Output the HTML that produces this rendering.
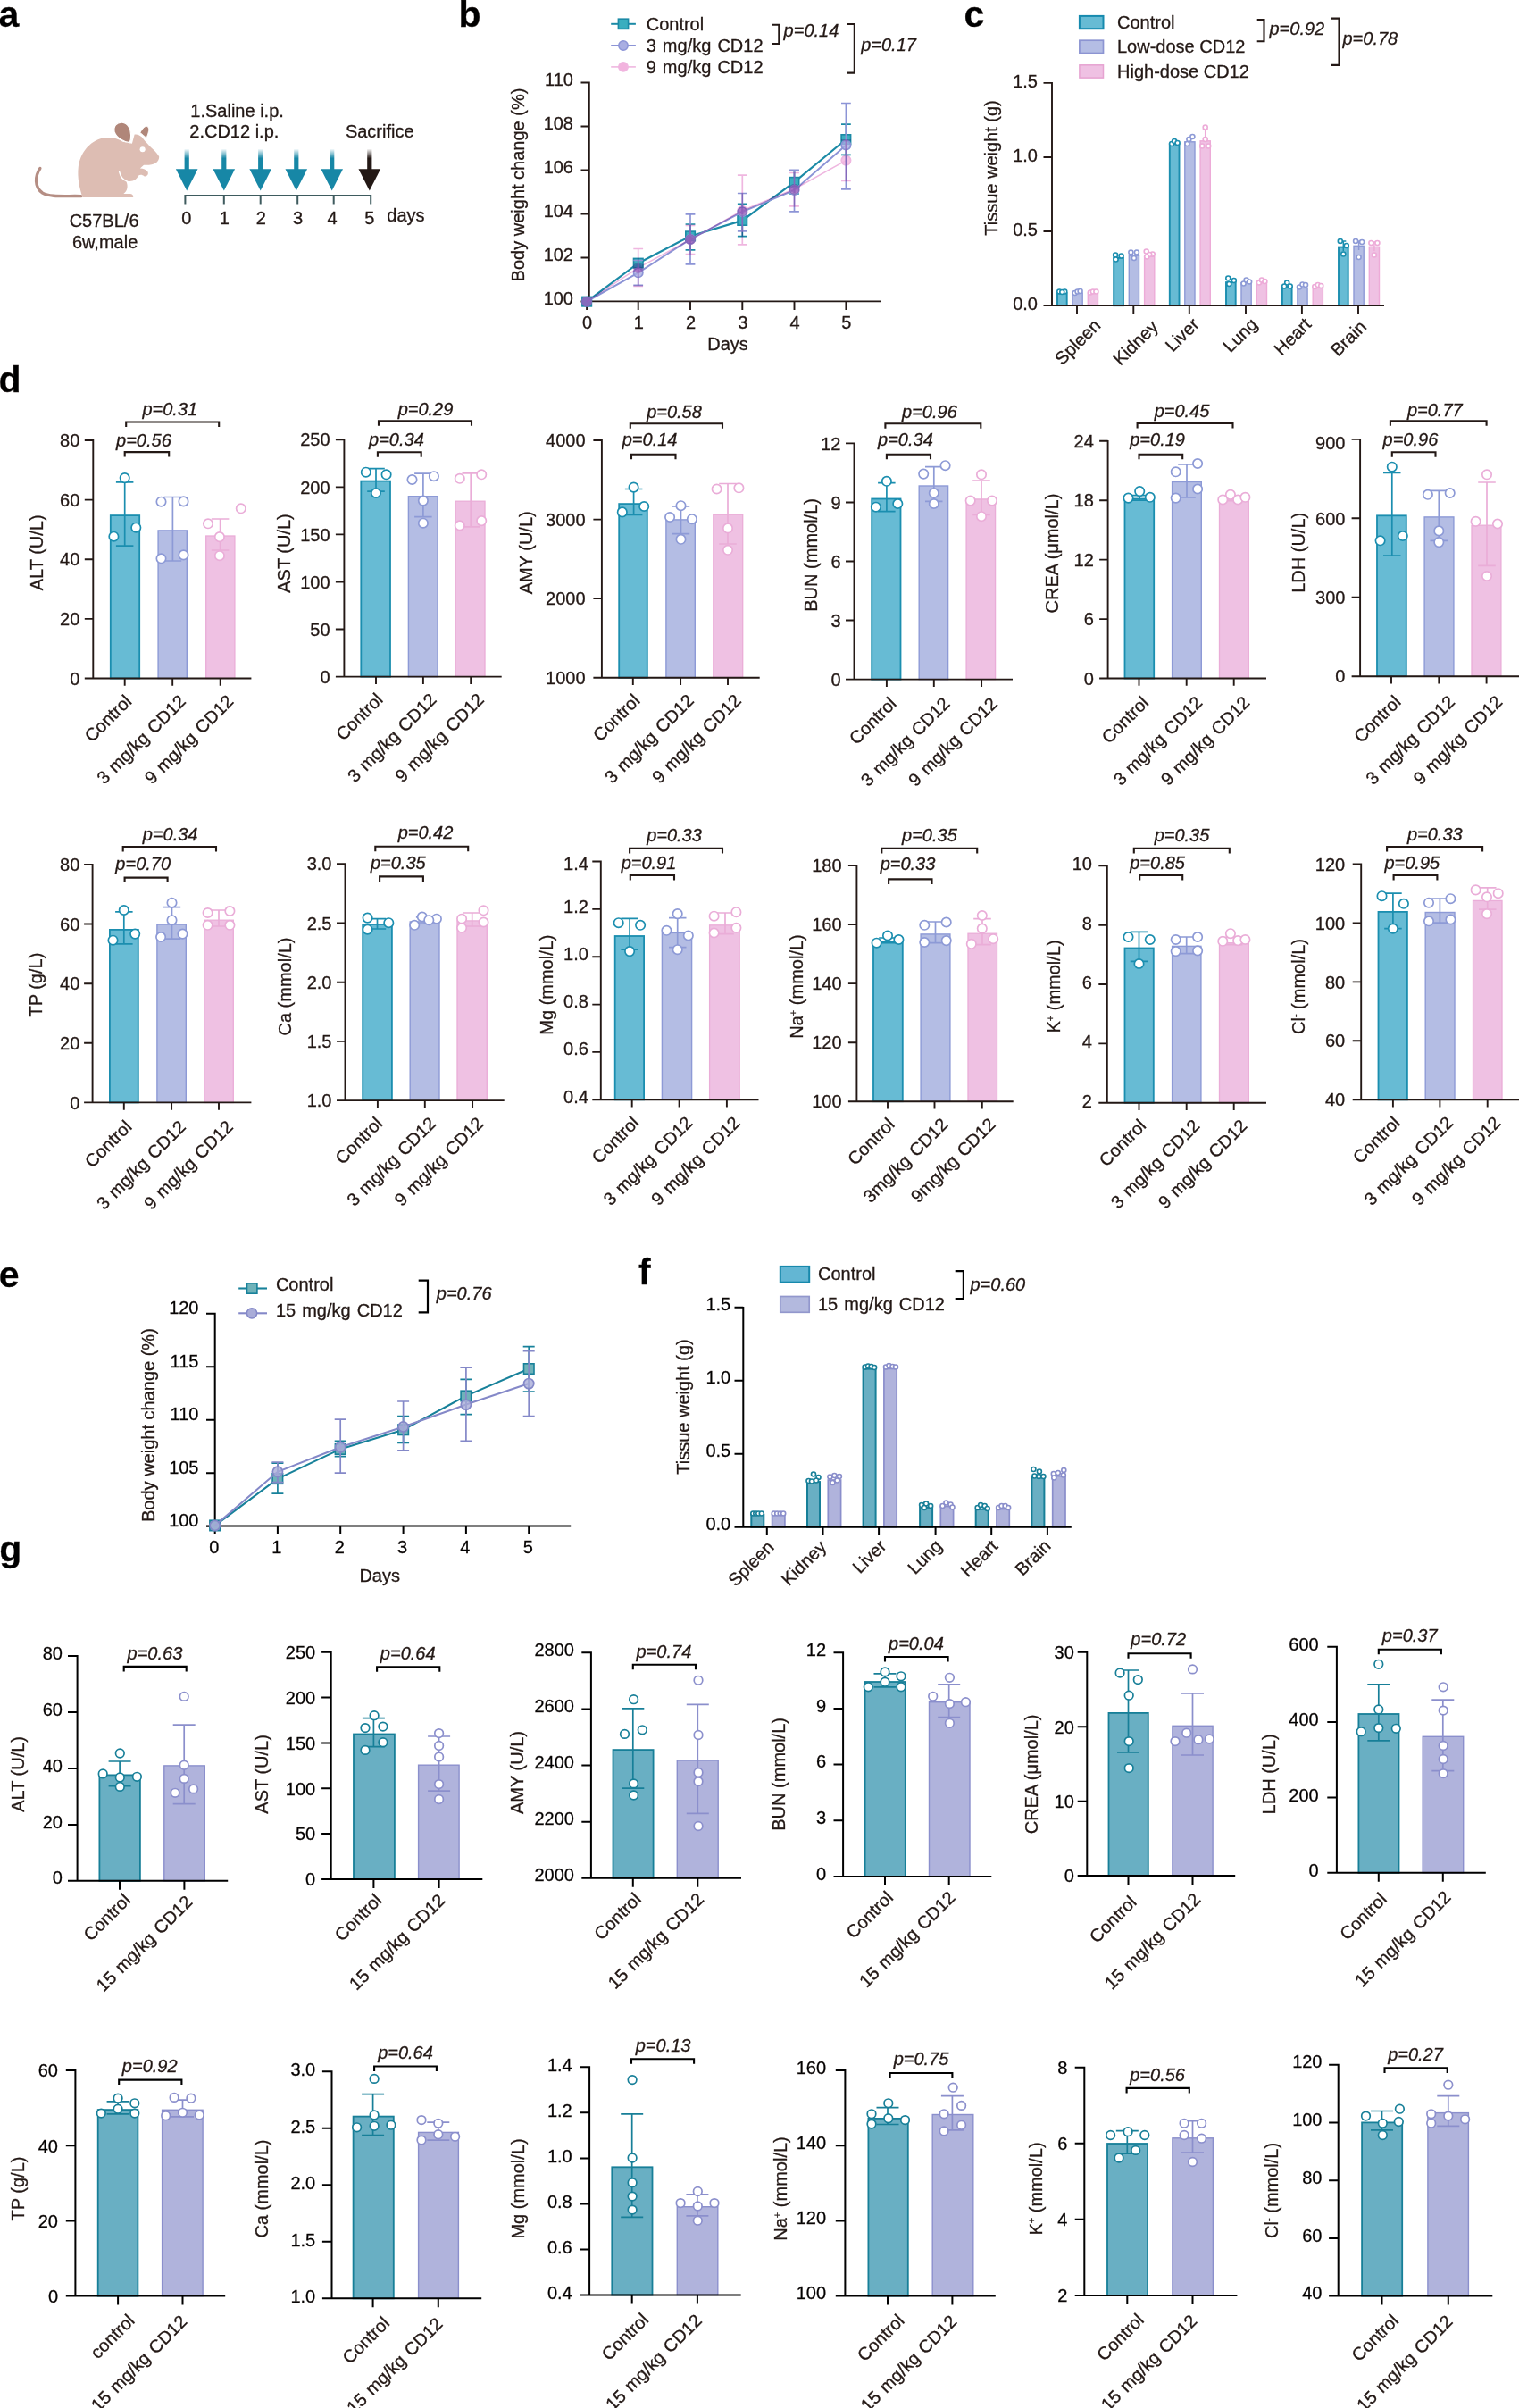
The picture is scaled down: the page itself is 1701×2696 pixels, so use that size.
<!DOCTYPE html>
<html lang="en"><head><meta charset="utf-8"><title>Figure</title>
<style>html,body{margin:0;padding:0;background:#fff}svg{display:block}text{stroke:#231815;stroke-width:.3px}</style></head>
<body>
<svg width="1701" height="2696" viewBox="0 0 1701 2696" font-family="'Liberation Sans', sans-serif" font-size="20" fill="#231815">
<text x="-1.5" y="30" font-weight="bold" font-size="41" fill="#000">a</text>
<text x="513.5" y="30" font-weight="bold" font-size="41" fill="#000">b</text>
<text x="1079.5" y="29.6" font-weight="bold" font-size="41" fill="#000">c</text>
<text x="-1.5" y="438.7" font-weight="bold" font-size="41" fill="#000">d</text>
<text x="-1.2" y="1440.8" font-weight="bold" font-size="41" fill="#000">e</text>
<text x="715" y="1438" font-weight="bold" font-size="41" fill="#000">f</text>
<text x="-0.8" y="1747.5" font-weight="bold" font-size="41" fill="#000">g</text>
<defs><linearGradient id="gt" x1="0" y1="0" x2="0" y2="1"><stop offset="0" stop-color="#1787A6" stop-opacity="0"/><stop offset="0.45" stop-color="#1787A6" stop-opacity="1"/></linearGradient><linearGradient id="gk" x1="0" y1="0" x2="0" y2="1"><stop offset="0" stop-color="#231815" stop-opacity="0"/><stop offset="0.45" stop-color="#231815" stop-opacity="1"/></linearGradient></defs>
<g transform="translate(20 100) scale(0.13826)">
<path d="M180 640C140 700 130 790 200 840C260 875 380 862 512 865" fill="none" stroke="#B58E84" stroke-width="24" stroke-linecap="round"/>
<path d="M524 876C500 800 480 720 490 630C505 520 575 420 690 394C760 385 810 400 850 425L925 440L945 366C965 362 985 370 1003 386L1030 420C1050 440 1075 470 1092 482C1115 505 1135 525 1144 545C1146 565 1135 585 1118 596C1095 610 1060 616 1020 613L990 640C1015 640 1040 650 1052 668C1062 690 1045 710 1022 703C1008 690 990 688 975 700C965 725 940 745 905 745C885 745 880 745 880 750C895 790 885 825 856 846L912 846C930 848 938 862 934 876Z" fill="#DDBDB3"/>
<path d="M822 668C830 705 850 735 890 748" fill="none" stroke="#fff" stroke-width="11" stroke-linecap="round"/>
<path d="M905 432C860 428 800 395 782 345C772 300 800 265 845 268C890 272 915 320 916 370C917 400 912 420 905 432Z" fill="#B08679" stroke="#fff" stroke-width="9"/>
<path d="M990 350C1005 325 1020 305 1040 297C1058 300 1064 318 1060 338C1055 362 1048 380 1040 392C1022 378 1005 362 990 350Z" fill="#B08679" stroke="#fff" stroke-width="6"/>
<circle cx="1010" cy="487" r="22" fill="#fff"/>
</g>
<g>
<text x="116.6" y="254.2" text-anchor="middle">C57BL/6</text>
<text x="117.6" y="278.3" text-anchor="middle">6w,male</text>
<text x="213.3" y="130.6">1.Saline i.p.</text>
<text x="212.3" y="154.3">2.CD12 i.p.</text>
<text x="386.9" y="153.7">Sacrifice</text>
<rect x="206.6" y="166.5" width="5.2" height="24" fill="url(#gt)"/>
<path d="M196.9 189.3H221.5L209.2 213.4Z" fill="#1787A6" stroke="none" stroke-width="0"/>
<rect x="248.2" y="166.5" width="5.2" height="24" fill="url(#gt)"/>
<path d="M238.5 189.3H263.1L250.8 213.4Z" fill="#1787A6" stroke="none" stroke-width="0"/>
<rect x="289.1" y="166.5" width="5.2" height="24" fill="url(#gt)"/>
<path d="M279.4 189.3H304L291.7 213.4Z" fill="#1787A6" stroke="none" stroke-width="0"/>
<rect x="329.2" y="166.5" width="5.2" height="24" fill="url(#gt)"/>
<path d="M319.5 189.3H344.1L331.8 213.4Z" fill="#1787A6" stroke="none" stroke-width="0"/>
<rect x="369.1" y="166.5" width="5.2" height="24" fill="url(#gt)"/>
<path d="M359.4 189.3H384L371.7 213.4Z" fill="#1787A6" stroke="none" stroke-width="0"/>
<rect x="411.2" y="166.5" width="5.2" height="24" fill="url(#gk)"/>
<path d="M401.5 189.3H426.1L413.8 213.4Z" fill="#231815" stroke="none" stroke-width="0"/>
<path d="M207.4 228.6V219.1H415.2V228.6M250.8 219.1V228.6M291.7 219.1V228.6M333.2 219.1V228.6M373.7 219.1V228.6" fill="none" stroke="#3E5B5E" stroke-width="2"/>
<text x="208.8" y="251.1" text-anchor="middle">0</text>
<text x="251.2" y="251.1" text-anchor="middle">1</text>
<text x="292.3" y="251.1" text-anchor="middle">2</text>
<text x="333.6" y="251.1" text-anchor="middle">3</text>
<text x="372.1" y="251.1" text-anchor="middle">4</text>
<text x="413.8" y="251.1" text-anchor="middle">5</text>
<text x="433.3" y="248.1">days</text>
</g>
<path d="M659.8 91.6V337.4M651.5 337.4H986M650.5 92.5H659.8M650.5 141.5H659.8M650.5 190.5H659.8M650.5 239.5H659.8M650.5 288.5H659.8M650.5 337.5H659.8M657.1 337.4V347M714.7 337.4V347M773 337.4V347M831.3 337.4V347M889.5 337.4V347M947.4 337.4V347" fill="none" stroke="#231815" stroke-width="1.9"/>
<g>
<path d="M709.3 291H720.1M709.3 298.5H720.1M714.7 291V298.5M767.6 251H778.4M767.6 279.9H778.4M773 251V279.9M825.9 228.3H836.7M825.9 264.7H836.7M831.3 228.3V264.7M884.1 191H894.9M884.1 217H894.9M889.5 191V217M942 139.1H952.8M942 173.4H952.8M947.4 139.1V173.4" fill="none" stroke="#1B8AA6" stroke-width="1.7"/>
<path d="M657.1 337.7L714.7 294.7L773 264.4L831.3 246.9L889.5 203.8L947.4 156" fill="none" stroke="#1B8AA6" stroke-width="2.2"/>
<rect x="651.9" y="332.4" width="10.5" height="10.5" fill="#3AAEBF" stroke="#1B8AA6" stroke-width="1.6"/>
<rect x="709.5" y="289.4" width="10.5" height="10.5" fill="#3AAEBF" stroke="#1B8AA6" stroke-width="1.6"/>
<rect x="767.8" y="259.1" width="10.5" height="10.5" fill="#3AAEBF" stroke="#1B8AA6" stroke-width="1.6"/>
<rect x="826" y="241.7" width="10.5" height="10.5" fill="#3AAEBF" stroke="#1B8AA6" stroke-width="1.6"/>
<rect x="884.2" y="198.6" width="10.5" height="10.5" fill="#3AAEBF" stroke="#1B8AA6" stroke-width="1.6"/>
<rect x="942.1" y="150.8" width="10.5" height="10.5" fill="#3AAEBF" stroke="#1B8AA6" stroke-width="1.6"/>
</g>
<g>
<path d="M709.3 291.5H720.1M709.3 319.3H720.1M714.7 291.5V319.3M767.6 239.8H778.4M767.6 295.9H778.4M773 239.8V295.9M825.9 216.5H836.7M825.9 258.9H836.7M831.3 216.5V258.9M884.1 190.4H894.9M884.1 236.8H894.9M889.5 190.4V236.8M942 115.5H952.8M942 211.8H952.8M947.4 115.5V211.8" fill="none" stroke="#8C94D6" stroke-width="1.7"/>
<path d="M657.1 337.7L714.7 305.3L773 267.9L831.3 237.2L889.5 212.9L947.4 162.5" fill="none" stroke="#8C94D6" stroke-width="2"/>
<circle cx="657.1" cy="337.7" r="5.2" fill="#A9AEE2" stroke="#8C94D6" stroke-width="1.7" fill-opacity="0.8"/>
<circle cx="714.7" cy="305.3" r="5.2" fill="#A9AEE2" stroke="#8C94D6" stroke-width="1.7" fill-opacity="0.8"/>
<circle cx="773" cy="267.9" r="5.2" fill="#A9AEE2" stroke="#8C94D6" stroke-width="1.7" fill-opacity="0.8"/>
<circle cx="831.3" cy="237.2" r="5.2" fill="#A9AEE2" stroke="#8C94D6" stroke-width="1.7" fill-opacity="0.8"/>
<circle cx="889.5" cy="212.9" r="5.2" fill="#A9AEE2" stroke="#8C94D6" stroke-width="1.7" fill-opacity="0.8"/>
<circle cx="947.4" cy="162.5" r="5.2" fill="#A9AEE2" stroke="#8C94D6" stroke-width="1.7" fill-opacity="0.8"/>
</g>
<g style="mix-blend-mode:multiply">
<path d="M709.3 278.5H720.1M709.3 320.4H720.1M714.7 278.5V320.4M767.6 252.4H778.4M767.6 284.6H778.4M773 252.4V284.6M825.9 196.2H836.7M825.9 273.8H836.7M831.3 196.2V273.8M884.1 193.5H894.9M884.1 230.9H894.9M889.5 193.5V230.9M942 156.8H952.8M942 202.4H952.8M947.4 156.8V202.4" fill="none" stroke="#EFB7E0" stroke-width="1.7"/>
<path d="M657.1 337.7L714.7 299.9L773 268.3L831.3 235.8L889.5 211.8L947.4 179.6" fill="none" stroke="#EFB7E0" stroke-width="1.6"/>
<circle cx="657.1" cy="337.7" r="5.2" fill="#E287D2" stroke="#EFB7E0" stroke-width="1.7" fill-opacity="0.8"/>
<circle cx="714.7" cy="299.9" r="5.2" fill="#E287D2" stroke="#EFB7E0" stroke-width="1.7" fill-opacity="0.8"/>
<circle cx="773" cy="268.3" r="5.2" fill="#E287D2" stroke="#EFB7E0" stroke-width="1.7" fill-opacity="0.8"/>
<circle cx="831.3" cy="235.8" r="5.2" fill="#E287D2" stroke="#EFB7E0" stroke-width="1.7" fill-opacity="0.8"/>
<circle cx="889.5" cy="211.8" r="5.2" fill="#E287D2" stroke="#EFB7E0" stroke-width="1.7" fill-opacity="0.8"/>
<circle cx="947.4" cy="179.6" r="5.2" fill="#F2B3DE" stroke="#EFB7E0" stroke-width="1.7" fill-opacity="0.8"/>
</g>
<text x="642" y="95.7" text-anchor="end">110</text>
<text x="642" y="144.7" text-anchor="end">108</text>
<text x="642" y="193.7" text-anchor="end">106</text>
<text x="642" y="242.7" text-anchor="end">104</text>
<text x="642" y="291.7" text-anchor="end">102</text>
<text x="642" y="340.7" text-anchor="end">100</text>
<text x="657.6" y="368" text-anchor="middle">0</text>
<text x="715.2" y="368" text-anchor="middle">1</text>
<text x="773.5" y="368" text-anchor="middle">2</text>
<text x="831.8" y="368" text-anchor="middle">3</text>
<text x="890" y="368" text-anchor="middle">4</text>
<text x="947.9" y="368" text-anchor="middle">5</text>
<text x="815" y="392" text-anchor="middle">Days</text>
<text text-anchor="middle" transform="translate(586.5 207) rotate(-90)">Body weight change (%)</text>
<line x1="684.2" y1="26.8" x2="711.9" y2="26.8" stroke="#1B8AA6" stroke-width="2"/>
<rect x="692.4" y="21.2" width="11.2" height="11.2" fill="#3AAEBF" stroke="#1B8AA6" stroke-width="1.6"/>
<text x="723.7" y="33.8" word-spacing="1.5">Control</text>
<line x1="684.2" y1="51" x2="711.9" y2="51" stroke="#8C94D6" stroke-width="2"/>
<circle cx="698" cy="51" r="5.2" fill="#A9AEE2" stroke="#8C94D6" stroke-width="1.5"/>
<text x="723.7" y="58" word-spacing="1.5">3 mg/kg CD12</text>
<line x1="684.2" y1="74.9" x2="711.9" y2="74.9" stroke="#EFB7E0" stroke-width="1.6"/>
<circle cx="698" cy="74.9" r="5.2" fill="#F2B3DE" stroke="#EFB7E0" stroke-width="1.5"/>
<text x="723.7" y="81.9" word-spacing="1.5">9 mg/kg CD12</text>
<path d="M864.5 27.8H872.3V49H864.5" fill="none" stroke="#231815" stroke-width="2.1"/>
<text x="877.6" y="41" font-style="italic">p=0.14</text>
<path d="M948.4 27H956.8V81.6H948.4" fill="none" stroke="#231815" stroke-width="2.1"/>
<text x="964.2" y="56.6" font-style="italic">p=0.17</text>
<rect x="1184" y="328.2" width="10.7" height="13.9" fill="#67BBD4" stroke="#1B8EAF" stroke-width="1.9"/>
<circle cx="1186.3" cy="326.5" r="2.5" fill="#fff" stroke="#1B8EAF" stroke-width="1.6"/>
<circle cx="1192.3" cy="326.5" r="2.5" fill="#fff" stroke="#1B8EAF" stroke-width="1.6"/>
<circle cx="1189.3" cy="327" r="2.5" fill="#fff" stroke="#1B8EAF" stroke-width="1.6"/>
<rect x="1201" y="328" width="11.2" height="14.1" fill="#B4BDE4" stroke="#8D9AD6" stroke-width="1.4"/>
<circle cx="1203.6" cy="328" r="2.5" fill="#fff" stroke="#8D9AD6" stroke-width="1.6"/>
<circle cx="1206.6" cy="326.5" r="2.5" fill="#fff" stroke="#8D9AD6" stroke-width="1.6"/>
<circle cx="1209.6" cy="326" r="2.5" fill="#fff" stroke="#8D9AD6" stroke-width="1.6"/>
<rect x="1218.3" y="328" width="11.2" height="14.1" fill="#EFC1E3" stroke="#EDABD8" stroke-width="1.4"/>
<circle cx="1220.9" cy="327.5" r="2.5" fill="#fff" stroke="#EDABD8" stroke-width="1.6"/>
<circle cx="1223.9" cy="326.5" r="2.5" fill="#fff" stroke="#EDABD8" stroke-width="1.6"/>
<circle cx="1227.4" cy="326.5" r="2.5" fill="#fff" stroke="#EDABD8" stroke-width="1.6"/>
<rect x="1247.2" y="288.8" width="10.7" height="53.4" fill="#67BBD4" stroke="#1B8EAF" stroke-width="1.9"/>
<circle cx="1249.1" cy="285.5" r="2.5" fill="#fff" stroke="#1B8EAF" stroke-width="1.6"/>
<circle cx="1255.6" cy="286.5" r="2.5" fill="#fff" stroke="#1B8EAF" stroke-width="1.6"/>
<circle cx="1249.6" cy="290.5" r="2.5" fill="#fff" stroke="#1B8EAF" stroke-width="1.6"/>
<rect x="1264.3" y="286.2" width="11.2" height="55.9" fill="#B4BDE4" stroke="#8D9AD6" stroke-width="1.4"/>
<circle cx="1266.4" cy="282.5" r="2.5" fill="#fff" stroke="#8D9AD6" stroke-width="1.6"/>
<circle cx="1272.9" cy="282.5" r="2.5" fill="#fff" stroke="#8D9AD6" stroke-width="1.6"/>
<circle cx="1269.9" cy="289" r="2.5" fill="#fff" stroke="#8D9AD6" stroke-width="1.6"/>
<rect x="1281.6" y="287.2" width="11.2" height="54.9" fill="#EFC1E3" stroke="#EDABD8" stroke-width="1.4"/>
<circle cx="1283.7" cy="281.5" r="2.5" fill="#fff" stroke="#EDABD8" stroke-width="1.6"/>
<circle cx="1290.7" cy="284.5" r="2.5" fill="#fff" stroke="#EDABD8" stroke-width="1.6"/>
<circle cx="1287.2" cy="285" r="2.5" fill="#fff" stroke="#EDABD8" stroke-width="1.6"/>
<circle cx="1284.2" cy="287.5" r="2.5" fill="#fff" stroke="#EDABD8" stroke-width="1.6"/>
<rect x="1309.8" y="161.3" width="10.7" height="180.8" fill="#67BBD4" stroke="#1B8EAF" stroke-width="1.9"/>
<circle cx="1312.1" cy="161" r="2.5" fill="#fff" stroke="#1B8EAF" stroke-width="1.6"/>
<circle cx="1315.1" cy="158" r="2.5" fill="#fff" stroke="#1B8EAF" stroke-width="1.6"/>
<circle cx="1318.6" cy="160" r="2.5" fill="#fff" stroke="#1B8EAF" stroke-width="1.6"/>
<rect x="1326.8" y="158.8" width="11.2" height="183.3" fill="#B4BDE4" stroke="#8D9AD6" stroke-width="1.4"/>
<circle cx="1329.4" cy="161" r="2.5" fill="#fff" stroke="#8D9AD6" stroke-width="1.6"/>
<circle cx="1331.4" cy="156" r="2.5" fill="#fff" stroke="#8D9AD6" stroke-width="1.6"/>
<circle cx="1335.4" cy="153" r="2.5" fill="#fff" stroke="#8D9AD6" stroke-width="1.6"/>
<rect x="1344.1" y="157.8" width="11.2" height="184.3" fill="#EFC1E3" stroke="#EDABD8" stroke-width="1.4"/>
<path d="M1346.7 145H1352.7M1349.7 145V157.1" fill="none" stroke="#EDABD8" stroke-width="1.5"/>
<circle cx="1349.7" cy="142.5" r="2.5" fill="#fff" stroke="#EDABD8" stroke-width="1.6"/>
<circle cx="1349.7" cy="156" r="2.5" fill="#fff" stroke="#EDABD8" stroke-width="1.6"/>
<circle cx="1346.2" cy="163.5" r="2.5" fill="#fff" stroke="#EDABD8" stroke-width="1.6"/>
<circle cx="1353.2" cy="163.5" r="2.5" fill="#fff" stroke="#EDABD8" stroke-width="1.6"/>
<rect x="1373" y="316.1" width="10.7" height="26.1" fill="#67BBD4" stroke="#1B8EAF" stroke-width="1.9"/>
<circle cx="1375.3" cy="311.5" r="2.5" fill="#fff" stroke="#1B8EAF" stroke-width="1.6"/>
<circle cx="1381.8" cy="314" r="2.5" fill="#fff" stroke="#1B8EAF" stroke-width="1.6"/>
<circle cx="1376.3" cy="318" r="2.5" fill="#fff" stroke="#1B8EAF" stroke-width="1.6"/>
<rect x="1390" y="316.7" width="11.2" height="25.4" fill="#B4BDE4" stroke="#8D9AD6" stroke-width="1.4"/>
<circle cx="1392.6" cy="317.5" r="2.5" fill="#fff" stroke="#8D9AD6" stroke-width="1.6"/>
<circle cx="1395.6" cy="313.5" r="2.5" fill="#fff" stroke="#8D9AD6" stroke-width="1.6"/>
<circle cx="1399.1" cy="315.5" r="2.5" fill="#fff" stroke="#8D9AD6" stroke-width="1.6"/>
<rect x="1407.3" y="316.7" width="11.2" height="25.4" fill="#EFC1E3" stroke="#EDABD8" stroke-width="1.4"/>
<circle cx="1409.9" cy="316.5" r="2.5" fill="#fff" stroke="#EDABD8" stroke-width="1.6"/>
<circle cx="1412.9" cy="313.5" r="2.5" fill="#fff" stroke="#EDABD8" stroke-width="1.6"/>
<circle cx="1416.4" cy="315" r="2.5" fill="#fff" stroke="#EDABD8" stroke-width="1.6"/>
<rect x="1435.9" y="320.9" width="10.7" height="21.2" fill="#67BBD4" stroke="#1B8EAF" stroke-width="1.9"/>
<circle cx="1441.2" cy="316.5" r="2.5" fill="#fff" stroke="#1B8EAF" stroke-width="1.6"/>
<circle cx="1438.2" cy="320.5" r="2.5" fill="#fff" stroke="#1B8EAF" stroke-width="1.6"/>
<circle cx="1444.7" cy="320.5" r="2.5" fill="#fff" stroke="#1B8EAF" stroke-width="1.6"/>
<rect x="1452.9" y="322.4" width="11.2" height="19.7" fill="#B4BDE4" stroke="#8D9AD6" stroke-width="1.4"/>
<circle cx="1455" cy="321.5" r="2.5" fill="#fff" stroke="#8D9AD6" stroke-width="1.6"/>
<circle cx="1458.5" cy="318.5" r="2.5" fill="#fff" stroke="#8D9AD6" stroke-width="1.6"/>
<circle cx="1462" cy="319" r="2.5" fill="#fff" stroke="#8D9AD6" stroke-width="1.6"/>
<rect x="1470.2" y="322.4" width="11.2" height="19.7" fill="#EFC1E3" stroke="#EDABD8" stroke-width="1.4"/>
<circle cx="1472.3" cy="321" r="2.5" fill="#fff" stroke="#EDABD8" stroke-width="1.6"/>
<circle cx="1475.8" cy="319" r="2.5" fill="#fff" stroke="#EDABD8" stroke-width="1.6"/>
<circle cx="1479.3" cy="320" r="2.5" fill="#fff" stroke="#EDABD8" stroke-width="1.6"/>
<rect x="1499" y="276.6" width="10.7" height="65.5" fill="#67BBD4" stroke="#1B8EAF" stroke-width="1.9"/>
<path d="M1501.3 270H1507.3M1504.3 270V281" fill="none" stroke="#1B8EAF" stroke-width="1.5"/>
<circle cx="1500.8" cy="270" r="2.5" fill="#fff" stroke="#1B8EAF" stroke-width="1.6"/>
<circle cx="1507.8" cy="275" r="2.5" fill="#fff" stroke="#1B8EAF" stroke-width="1.6"/>
<circle cx="1504.3" cy="284.5" r="2.5" fill="#fff" stroke="#1B8EAF" stroke-width="1.6"/>
<rect x="1516" y="275.3" width="11.2" height="66.8" fill="#B4BDE4" stroke="#8D9AD6" stroke-width="1.4"/>
<path d="M1518.6 270H1524.6M1521.6 270V280" fill="none" stroke="#8D9AD6" stroke-width="1.5"/>
<circle cx="1518.1" cy="270" r="2.5" fill="#fff" stroke="#8D9AD6" stroke-width="1.6"/>
<circle cx="1525.1" cy="271" r="2.5" fill="#fff" stroke="#8D9AD6" stroke-width="1.6"/>
<circle cx="1521.6" cy="288" r="2.5" fill="#fff" stroke="#8D9AD6" stroke-width="1.6"/>
<rect x="1533.3" y="276.3" width="11.2" height="65.8" fill="#EFC1E3" stroke="#EDABD8" stroke-width="1.4"/>
<path d="M1535.9 271H1541.9M1538.9 271V281" fill="none" stroke="#EDABD8" stroke-width="1.5"/>
<circle cx="1535.4" cy="272" r="2.5" fill="#fff" stroke="#EDABD8" stroke-width="1.6"/>
<circle cx="1542.4" cy="272" r="2.5" fill="#fff" stroke="#EDABD8" stroke-width="1.6"/>
<circle cx="1538.9" cy="285.5" r="2.5" fill="#fff" stroke="#EDABD8" stroke-width="1.6"/>
<path d="M1178 92V342.1M1168.5 342.1H1550M1168.5 92.9H1178M1168.5 176H1178M1168.5 259H1178M1168.5 342.1H1178M1206 342.1V351M1269.3 342.1V351M1331.8 342.1V351M1395 342.1V351M1457.9 342.1V351M1521 342.1V351" fill="none" stroke="#231815" stroke-width="1.9"/>
<text x="1162" y="97.9" text-anchor="end">1.5</text>
<text x="1162" y="181" text-anchor="end">1.0</text>
<text x="1162" y="264" text-anchor="end">0.5</text>
<text x="1162" y="347.1" text-anchor="end">0.0</text>
<text text-anchor="end" transform="translate(1233.5 365.7) rotate(-45)">Spleen</text>
<text text-anchor="end" transform="translate(1298 367.1) rotate(-45)">Kidney</text>
<text text-anchor="end" transform="translate(1344 364.4) rotate(-45)">Liver</text>
<text text-anchor="end" transform="translate(1409.3 364.4) rotate(-45)">Lung</text>
<text text-anchor="end" transform="translate(1469.5 364.4) rotate(-45)">Heart</text>
<text text-anchor="end" transform="translate(1531.3 367.1) rotate(-45)">Brain</text>
<text text-anchor="middle" transform="translate(1116.5 188) rotate(-90)">Tissue weight (g)</text>
<rect x="1208.9" y="17.9" width="26.6" height="14.3" fill="#67BBD4" stroke="#168AAE" stroke-width="2"/>
<text x="1251" y="32.1">Control</text>
<rect x="1208.9" y="45.2" width="26.6" height="14.3" fill="#B4BDE4" stroke="#8C94D2" stroke-width="1.7"/>
<text x="1251" y="59.4">Low-dose CD12</text>
<rect x="1208.9" y="72.8" width="26.6" height="14.3" fill="#EFC1E3" stroke="#E6A3D1" stroke-width="1.5"/>
<text x="1251" y="87">High-dose CD12</text>
<path d="M1407.7 22H1415.5V46.2H1407.7" fill="none" stroke="#231815" stroke-width="2.1"/>
<text x="1421.5" y="39.3" font-style="italic">p=0.92</text>
<path d="M1491 20.6H1499.5V72.9H1491" fill="none" stroke="#231815" stroke-width="2.1"/>
<text x="1503.5" y="49.8" font-style="italic">p=0.78</text>
<rect x="123.8" y="577.1" width="32.4" height="182.4" fill="#67BBD4" stroke="#1B8EAF" stroke-width="1.8"/>
<rect x="177.1" y="593.9" width="32.2" height="165.6" fill="#B4BDE4" stroke="#8D9AD6" stroke-width="1.4"/>
<rect x="230.7" y="600" width="32.2" height="159.5" fill="#EFC1E3" stroke="#EAADD8" stroke-width="1.3"/>
<path d="M129.9 539.8H149.4M129.9 611.2H149.4M139.7 539.8V611.2" fill="none" stroke="#1B8EAF" stroke-width="1.7"/>
<path d="M183.7 556.5H203.2M183.7 628H203.2M193.4 556.5V628" fill="none" stroke="#8D9AD6" stroke-width="1.7"/>
<path d="M236.8 581H256.4M236.8 616H256.4M246.6 581V616" fill="none" stroke="#EAADD8" stroke-width="1.7"/>
<circle cx="139.7" cy="535.1" r="5.2" fill="#fff" stroke="#1B8EAF" stroke-width="1.7"/>
<circle cx="152.3" cy="590.7" r="5.2" fill="#fff" stroke="#1B8EAF" stroke-width="1.7"/>
<circle cx="127.4" cy="600.7" r="5.2" fill="#fff" stroke="#1B8EAF" stroke-width="1.7"/>
<circle cx="180.5" cy="561.7" r="5.2" fill="#fff" stroke="#8D9AD6" stroke-width="1.7"/>
<circle cx="205.5" cy="561.4" r="5.2" fill="#fff" stroke="#8D9AD6" stroke-width="1.7"/>
<circle cx="180.5" cy="625.3" r="5.2" fill="#fff" stroke="#8D9AD6" stroke-width="1.7"/>
<circle cx="205.5" cy="621.4" r="5.2" fill="#fff" stroke="#8D9AD6" stroke-width="1.7"/>
<circle cx="233" cy="586.3" r="5.2" fill="#fff" stroke="#EAADD8" stroke-width="1.7"/>
<circle cx="269.8" cy="569.3" r="5.2" fill="#fff" stroke="#EAADD8" stroke-width="1.7"/>
<circle cx="245.9" cy="601.1" r="5.2" fill="#fff" stroke="#EAADD8" stroke-width="1.7"/>
<circle cx="245.9" cy="622.2" r="5.2" fill="#fff" stroke="#EAADD8" stroke-width="1.7"/>
<path d="M104.3 492.1V759.5M94.8 493H104.3M94.8 559.6H104.3M94.8 626.2H104.3M94.8 692.9H104.3M94.8 759.5H104.3M94.8 759.5H281.4M139.7 759.5V767.8M193.2 759.5V767.8M246.7 759.5V767.8" fill="none" stroke="#231815" stroke-width="1.9"/>
<text x="89.3" y="500.1" text-anchor="end">80</text>
<text x="89.3" y="566.7" text-anchor="end">60</text>
<text x="89.3" y="633.4" text-anchor="end">40</text>
<text x="89.3" y="700" text-anchor="end">20</text>
<text x="89.3" y="766.6" text-anchor="end">0</text>
<text text-anchor="middle" transform="translate(47.5 618.8) rotate(-90)">ALT (U/L)</text>
<text word-spacing="1.5" text-anchor="end" transform="translate(148.7 786.5) rotate(-45)">Control</text>
<text word-spacing="1.5" text-anchor="end" transform="translate(209.2 786.5) rotate(-45)">3 mg/kg CD12</text>
<text word-spacing="1.5" text-anchor="end" transform="translate(262.7 786.5) rotate(-45)">9 mg/kg CD12</text>
<path d="M141.2 478V472.5H245.2V478" fill="none" stroke="#231815" stroke-width="2.1"/>
<text x="190.3" y="464.9" text-anchor="middle" font-style="italic">p=0.31</text>
<path d="M139.7 511.6V506.1H189.2V511.6" fill="none" stroke="#231815" stroke-width="2.1"/>
<text x="160.9" y="499.5" text-anchor="middle" font-style="italic">p=0.56</text>
<rect x="404.3" y="538.6" width="32.7" height="219" fill="#67BBD4" stroke="#1B8EAF" stroke-width="1.8"/>
<rect x="457.4" y="555.7" width="32.7" height="201.9" fill="#B4BDE4" stroke="#8D9AD6" stroke-width="1.4"/>
<rect x="510.2" y="561.2" width="32.8" height="196.3" fill="#EFC1E3" stroke="#EAADD8" stroke-width="1.3"/>
<path d="M411.2 524.6H430.8M411.2 550.1H430.8M421 524.6V550.1" fill="none" stroke="#1B8EAF" stroke-width="1.7"/>
<path d="M464.1 530.2H483.6M464.1 578.6H483.6M473.9 530.2V578.6" fill="none" stroke="#8D9AD6" stroke-width="1.7"/>
<path d="M517.5 529.8H537M517.5 589.9H537M527.2 529.8V589.9" fill="none" stroke="#EAADD8" stroke-width="1.7"/>
<circle cx="409.8" cy="528.7" r="5.2" fill="#fff" stroke="#1B8EAF" stroke-width="1.7"/>
<circle cx="432.6" cy="531.3" r="5.2" fill="#fff" stroke="#1B8EAF" stroke-width="1.7"/>
<circle cx="421" cy="552" r="5.2" fill="#fff" stroke="#1B8EAF" stroke-width="1.7"/>
<circle cx="461.5" cy="537" r="5.2" fill="#fff" stroke="#8D9AD6" stroke-width="1.7"/>
<circle cx="485.9" cy="533.2" r="5.2" fill="#fff" stroke="#8D9AD6" stroke-width="1.7"/>
<circle cx="473.9" cy="560.6" r="5.2" fill="#fff" stroke="#8D9AD6" stroke-width="1.7"/>
<circle cx="473.9" cy="585.7" r="5.2" fill="#fff" stroke="#8D9AD6" stroke-width="1.7"/>
<circle cx="514.8" cy="535.8" r="5.2" fill="#fff" stroke="#EAADD8" stroke-width="1.7"/>
<circle cx="539.2" cy="531.3" r="5.2" fill="#fff" stroke="#EAADD8" stroke-width="1.7"/>
<circle cx="539.2" cy="583.1" r="5.2" fill="#fff" stroke="#EAADD8" stroke-width="1.7"/>
<circle cx="514.8" cy="588.4" r="5.2" fill="#fff" stroke="#EAADD8" stroke-width="1.7"/>
<path d="M385.4 491.4V757.6M375.9 492.3H385.4M375.9 545.4H385.4M375.9 598.4H385.4M375.9 651.5H385.4M375.9 704.5H385.4M375.9 757.6H385.4M375.9 757.6H561.7M421 757.6V765.9M473.9 757.6V765.9M527.2 757.6V765.9" fill="none" stroke="#231815" stroke-width="1.9"/>
<text x="369.6" y="499.4" text-anchor="end">250</text>
<text x="369.6" y="552.5" text-anchor="end">200</text>
<text x="369.6" y="605.5" text-anchor="end">150</text>
<text x="369.6" y="658.6" text-anchor="end">100</text>
<text x="369.6" y="711.6" text-anchor="end">50</text>
<text x="369.6" y="764.7" text-anchor="end">0</text>
<text text-anchor="middle" transform="translate(325.2 619.5) rotate(-90)">AST (U/L)</text>
<text word-spacing="1.5" text-anchor="end" transform="translate(430 784.6) rotate(-45)">Control</text>
<text word-spacing="1.5" text-anchor="end" transform="translate(489.9 784.6) rotate(-45)">3 mg/kg CD12</text>
<text word-spacing="1.5" text-anchor="end" transform="translate(543.2 784.6) rotate(-45)">9 mg/kg CD12</text>
<path d="M424 476.8V471.3H528V476.8" fill="none" stroke="#231815" stroke-width="2.1"/>
<text x="476.5" y="465" text-anchor="middle" font-style="italic">p=0.29</text>
<path d="M422.9 511.7V506.2H471.7V511.7" fill="none" stroke="#231815" stroke-width="2.1"/>
<text x="443.9" y="499.4" text-anchor="middle" font-style="italic">p=0.34</text>
<rect x="693.2" y="564.1" width="31.6" height="194.6" fill="#67BBD4" stroke="#1B8EAF" stroke-width="1.8"/>
<rect x="745.9" y="581.9" width="32.4" height="176.8" fill="#B4BDE4" stroke="#8D9AD6" stroke-width="1.4"/>
<rect x="798.8" y="576.2" width="32.9" height="182.5" fill="#EFC1E3" stroke="#EAADD8" stroke-width="1.3"/>
<path d="M699.9 547.5H719.4M699.9 576.4H719.4M709.6 547.5V576.4" fill="none" stroke="#1B8EAF" stroke-width="1.7"/>
<path d="M752.8 567H772.2M752.8 597.7H772.2M762.5 567V597.7" fill="none" stroke="#8D9AD6" stroke-width="1.7"/>
<path d="M805.2 541.5H824.8M805.2 609H824.8M815 541.5V609" fill="none" stroke="#EAADD8" stroke-width="1.7"/>
<circle cx="709.6" cy="545.6" r="5.2" fill="#fff" stroke="#1B8EAF" stroke-width="1.7"/>
<circle cx="721.2" cy="567" r="5.2" fill="#fff" stroke="#1B8EAF" stroke-width="1.7"/>
<circle cx="696.8" cy="573.4" r="5.2" fill="#fff" stroke="#1B8EAF" stroke-width="1.7"/>
<circle cx="762.5" cy="566.2" r="5.2" fill="#fff" stroke="#8D9AD6" stroke-width="1.7"/>
<circle cx="750.1" cy="579" r="5.2" fill="#fff" stroke="#8D9AD6" stroke-width="1.7"/>
<circle cx="774.9" cy="581.2" r="5.2" fill="#fff" stroke="#8D9AD6" stroke-width="1.7"/>
<circle cx="762.5" cy="603.8" r="5.2" fill="#fff" stroke="#8D9AD6" stroke-width="1.7"/>
<circle cx="802.6" cy="547.5" r="5.2" fill="#fff" stroke="#EAADD8" stroke-width="1.7"/>
<circle cx="827.4" cy="546.3" r="5.2" fill="#fff" stroke="#EAADD8" stroke-width="1.7"/>
<circle cx="815" cy="591.4" r="5.2" fill="#fff" stroke="#EAADD8" stroke-width="1.7"/>
<circle cx="815" cy="615.8" r="5.2" fill="#fff" stroke="#EAADD8" stroke-width="1.7"/>
<path d="M673.9 492.1V758.7M664.4 493H673.9M664.4 581.6H673.9M664.4 670.1H673.9M664.4 758.7H673.9M664.4 758.7H850.7M708.8 758.7V767M762.1 758.7V767M815 758.7V767" fill="none" stroke="#231815" stroke-width="1.9"/>
<text x="655.6" y="500.1" text-anchor="end">4000</text>
<text x="655.6" y="588.7" text-anchor="end">3000</text>
<text x="655.6" y="677.2" text-anchor="end">2000</text>
<text x="655.6" y="765.8" text-anchor="end">1000</text>
<text text-anchor="middle" transform="translate(596.1 618.8) rotate(-90)">AMY (U/L)</text>
<text word-spacing="1.5" text-anchor="end" transform="translate(717.8 785.7) rotate(-45)">Control</text>
<text word-spacing="1.5" text-anchor="end" transform="translate(778.1 785.7) rotate(-45)">3 mg/kg CD12</text>
<text word-spacing="1.5" text-anchor="end" transform="translate(831 785.7) rotate(-45)">9 mg/kg CD12</text>
<path d="M705.8 479.8V474.3H809V479.8" fill="none" stroke="#231815" stroke-width="2.1"/>
<text x="755" y="467.5" text-anchor="middle" font-style="italic">p=0.58</text>
<path d="M707 514.3V508.8H756.5V514.3" fill="none" stroke="#231815" stroke-width="2.1"/>
<text x="727.6" y="499.4" text-anchor="middle" font-style="italic">p=0.14</text>
<rect x="976.2" y="558.5" width="32.3" height="202.1" fill="#67BBD4" stroke="#1B8EAF" stroke-width="1.8"/>
<rect x="1029.2" y="544" width="32.4" height="216.6" fill="#B4BDE4" stroke="#8D9AD6" stroke-width="1.4"/>
<rect x="1082.1" y="558.9" width="32.5" height="201.7" fill="#EFC1E3" stroke="#EAADD8" stroke-width="1.3"/>
<path d="M983.1 540.7H1002.6M983.1 572.6H1002.6M992.9 540.7V572.6" fill="none" stroke="#1B8EAF" stroke-width="1.7"/>
<path d="M1036 522.7H1055.5M1036 561.4H1055.5M1045.8 522.7V561.4" fill="none" stroke="#8D9AD6" stroke-width="1.7"/>
<path d="M1089.2 538H1108.8M1089.2 576.4H1108.8M1099 538V576.4" fill="none" stroke="#EAADD8" stroke-width="1.7"/>
<circle cx="992.9" cy="538.8" r="5.2" fill="#fff" stroke="#1B8EAF" stroke-width="1.7"/>
<circle cx="1005.3" cy="564" r="5.2" fill="#fff" stroke="#1B8EAF" stroke-width="1.7"/>
<circle cx="980.9" cy="567.7" r="5.2" fill="#fff" stroke="#1B8EAF" stroke-width="1.7"/>
<circle cx="1034.2" cy="530.6" r="5.2" fill="#fff" stroke="#8D9AD6" stroke-width="1.7"/>
<circle cx="1058.6" cy="521.2" r="5.2" fill="#fff" stroke="#8D9AD6" stroke-width="1.7"/>
<circle cx="1045.8" cy="552" r="5.2" fill="#fff" stroke="#8D9AD6" stroke-width="1.7"/>
<circle cx="1045.8" cy="564" r="5.2" fill="#fff" stroke="#8D9AD6" stroke-width="1.7"/>
<circle cx="1099" cy="531.3" r="5.2" fill="#fff" stroke="#EAADD8" stroke-width="1.7"/>
<circle cx="1086.7" cy="560.6" r="5.2" fill="#fff" stroke="#EAADD8" stroke-width="1.7"/>
<circle cx="1111" cy="560.6" r="5.2" fill="#fff" stroke="#EAADD8" stroke-width="1.7"/>
<circle cx="1099" cy="578.2" r="5.2" fill="#fff" stroke="#EAADD8" stroke-width="1.7"/>
<path d="M956.5 495.4V760.6M947 496.4H956.5M947 562.5H956.5M947 628.5H956.5M947 694.5H956.5M947 760.6H956.5M947 760.6H1134M992.9 760.6V768.9M1045.8 760.6V768.9M1099.1 760.6V768.9" fill="none" stroke="#231815" stroke-width="1.9"/>
<text x="941.5" y="503.5" text-anchor="end">12</text>
<text x="941.5" y="569.6" text-anchor="end">9</text>
<text x="941.5" y="635.6" text-anchor="end">6</text>
<text x="941.5" y="701.6" text-anchor="end">3</text>
<text x="941.5" y="767.7" text-anchor="end">0</text>
<text text-anchor="middle" transform="translate(915.1 621.4) rotate(-90)">BUN (mmol/L)</text>
<text word-spacing="1.5" text-anchor="end" transform="translate(1004.9 789.1) rotate(-45)">Control</text>
<text word-spacing="1.5" text-anchor="end" transform="translate(1064.8 789.1) rotate(-45)">3 mg/kg CD12</text>
<text word-spacing="1.5" text-anchor="end" transform="translate(1118.1 789.1) rotate(-45)">9 mg/kg CD12</text>
<path d="M991.4 479.8V474.3H1098.3V479.8" fill="none" stroke="#231815" stroke-width="2.1"/>
<text x="1040.9" y="467.5" text-anchor="middle" font-style="italic">p=0.96</text>
<path d="M992.9 514.3V508.8H1042V514.3" fill="none" stroke="#231815" stroke-width="2.1"/>
<text x="1013.9" y="499.4" text-anchor="middle" font-style="italic">p=0.34</text>
<rect x="1259.5" y="558.5" width="32.7" height="201" fill="#67BBD4" stroke="#1B8EAF" stroke-width="1.8"/>
<rect x="1312.6" y="539.5" width="32.7" height="220" fill="#B4BDE4" stroke="#8D9AD6" stroke-width="1.4"/>
<rect x="1365.5" y="558.9" width="32.8" height="200.6" fill="#EFC1E3" stroke="#EAADD8" stroke-width="1.3"/>
<path d="M1266.5 554.6H1286M1266.5 560.2H1286M1276.2 554.6V560.2" fill="none" stroke="#1B8EAF" stroke-width="1.7"/>
<path d="M1319.2 520H1338.8M1319.2 556.8H1338.8M1329 520V556.8" fill="none" stroke="#8D9AD6" stroke-width="1.7"/>
<path d="M1372.2 555.7H1391.7M1372.2 560.6H1391.7M1381.9 555.7V560.6" fill="none" stroke="#EAADD8" stroke-width="1.7"/>
<circle cx="1276.2" cy="550.1" r="5.2" fill="#fff" stroke="#1B8EAF" stroke-width="1.7"/>
<circle cx="1263.5" cy="557.6" r="5.2" fill="#fff" stroke="#1B8EAF" stroke-width="1.7"/>
<circle cx="1287.8" cy="556.8" r="5.2" fill="#fff" stroke="#1B8EAF" stroke-width="1.7"/>
<circle cx="1341.1" cy="519" r="5.2" fill="#fff" stroke="#8D9AD6" stroke-width="1.7"/>
<circle cx="1316.7" cy="528.3" r="5.2" fill="#fff" stroke="#8D9AD6" stroke-width="1.7"/>
<circle cx="1341.1" cy="547.5" r="5.2" fill="#fff" stroke="#8D9AD6" stroke-width="1.7"/>
<circle cx="1316.7" cy="557.6" r="5.2" fill="#fff" stroke="#8D9AD6" stroke-width="1.7"/>
<circle cx="1377.9" cy="553.8" r="5.2" fill="#fff" stroke="#EAADD8" stroke-width="1.7"/>
<circle cx="1369.3" cy="559.5" r="5.2" fill="#fff" stroke="#EAADD8" stroke-width="1.7"/>
<circle cx="1386.2" cy="559.5" r="5.2" fill="#fff" stroke="#EAADD8" stroke-width="1.7"/>
<circle cx="1394.4" cy="556.8" r="5.2" fill="#fff" stroke="#EAADD8" stroke-width="1.7"/>
<path d="M1240.6 492.9V759.5M1231.1 493.8H1240.6M1231.1 560.2H1240.6M1231.1 626.6H1240.6M1231.1 693.1H1240.6M1231.1 759.5H1240.6M1231.1 759.5H1418M1275.5 759.5V767.8M1328.7 759.5V767.8M1381.7 759.5V767.8" fill="none" stroke="#231815" stroke-width="1.9"/>
<text x="1224.8" y="500.9" text-anchor="end">24</text>
<text x="1224.8" y="567.3" text-anchor="end">18</text>
<text x="1224.8" y="633.8" text-anchor="end">12</text>
<text x="1224.8" y="700.2" text-anchor="end">6</text>
<text x="1224.8" y="766.6" text-anchor="end">0</text>
<text text-anchor="middle" transform="translate(1185.3 619.5) rotate(-90)">CREA (μmol/L)</text>
<text word-spacing="1.5" text-anchor="end" transform="translate(1287.5 788) rotate(-45)">Control</text>
<text word-spacing="1.5" text-anchor="end" transform="translate(1347.7 788) rotate(-45)">3 mg/kg CD12</text>
<text word-spacing="1.5" text-anchor="end" transform="translate(1400.7 788) rotate(-45)">9 mg/kg CD12</text>
<path d="M1273.6 479.4V473.9H1380.5V479.4" fill="none" stroke="#231815" stroke-width="2.1"/>
<text x="1323.5" y="467" text-anchor="middle" font-style="italic">p=0.45</text>
<path d="M1275.5 514.3V508.8H1324.2V514.3" fill="none" stroke="#231815" stroke-width="2.1"/>
<text x="1296.1" y="499.4" text-anchor="middle" font-style="italic">p=0.19</text>
<rect x="1542" y="577.3" width="32.8" height="179.9" fill="#67BBD4" stroke="#1B8EAF" stroke-width="1.8"/>
<rect x="1595.1" y="578.9" width="32.8" height="178.3" fill="#B4BDE4" stroke="#8D9AD6" stroke-width="1.4"/>
<rect x="1648" y="588.2" width="32.9" height="169" fill="#EFC1E3" stroke="#EAADD8" stroke-width="1.3"/>
<path d="M1549 529.5H1568.5M1549 622.1H1568.5M1558.8 529.5V622.1" fill="none" stroke="#1B8EAF" stroke-width="1.7"/>
<path d="M1601.5 549.3H1621M1601.5 605.3H1621M1611.3 549.3V605.3" fill="none" stroke="#8D9AD6" stroke-width="1.7"/>
<path d="M1655.2 540H1674.8M1655.2 633.4H1674.8M1665 540V633.4" fill="none" stroke="#EAADD8" stroke-width="1.7"/>
<circle cx="1558.8" cy="522.7" r="5.2" fill="#fff" stroke="#1B8EAF" stroke-width="1.7"/>
<circle cx="1570.8" cy="600" r="5.2" fill="#fff" stroke="#1B8EAF" stroke-width="1.7"/>
<circle cx="1545.6" cy="605.3" r="5.2" fill="#fff" stroke="#1B8EAF" stroke-width="1.7"/>
<circle cx="1598.9" cy="553.8" r="5.2" fill="#fff" stroke="#8D9AD6" stroke-width="1.7"/>
<circle cx="1623.7" cy="552" r="5.2" fill="#fff" stroke="#8D9AD6" stroke-width="1.7"/>
<circle cx="1611.3" cy="594.4" r="5.2" fill="#fff" stroke="#8D9AD6" stroke-width="1.7"/>
<circle cx="1611.3" cy="607.1" r="5.2" fill="#fff" stroke="#8D9AD6" stroke-width="1.7"/>
<circle cx="1665" cy="531.3" r="5.2" fill="#fff" stroke="#EAADD8" stroke-width="1.7"/>
<circle cx="1652.6" cy="583.9" r="5.2" fill="#fff" stroke="#EAADD8" stroke-width="1.7"/>
<circle cx="1677" cy="586.5" r="5.2" fill="#fff" stroke="#EAADD8" stroke-width="1.7"/>
<circle cx="1665" cy="645" r="5.2" fill="#fff" stroke="#EAADD8" stroke-width="1.7"/>
<path d="M1523.1 490.9V757.2M1513.6 491.9H1523.1M1513.6 580.3H1523.1M1513.6 668.8H1523.1M1513.6 757.2H1523.1M1513.6 757.2H1701M1558 757.2V765.5M1611.3 757.2V765.5M1664.6 757.2V765.5" fill="none" stroke="#231815" stroke-width="1.9"/>
<text x="1506.4" y="502.7" text-anchor="end">900</text>
<text x="1506.4" y="587.9" text-anchor="end">600</text>
<text x="1506.4" y="675.9" text-anchor="end">300</text>
<text x="1506.4" y="764.3" text-anchor="end">0</text>
<text text-anchor="middle" transform="translate(1461.1 618.8) rotate(-90)">LDH (U/L)</text>
<text word-spacing="1.5" text-anchor="end" transform="translate(1570 787.2) rotate(-45)">Control</text>
<text word-spacing="1.5" text-anchor="end" transform="translate(1630.3 787.2) rotate(-45)">3 mg/kg CD12</text>
<text word-spacing="1.5" text-anchor="end" transform="translate(1683.6 787.2) rotate(-45)">9 mg/kg CD12</text>
<path d="M1556.9 476.8V471.3H1664.6V476.8" fill="none" stroke="#231815" stroke-width="2.1"/>
<text x="1606.8" y="465.7" text-anchor="middle" font-style="italic">p=0.77</text>
<path d="M1558.8 511.7V506.2H1607.5V511.7" fill="none" stroke="#231815" stroke-width="2.1"/>
<text x="1579.4" y="499" text-anchor="middle" font-style="italic">p=0.96</text>
<rect x="122.9" y="1040.9" width="31.9" height="193.5" fill="#67BBD4" stroke="#1B8EAF" stroke-width="1.8"/>
<rect x="175.9" y="1035" width="32.4" height="199.4" fill="#B4BDE4" stroke="#8D9AD6" stroke-width="1.4"/>
<rect x="228.8" y="1030.2" width="32.5" height="204.3" fill="#EFC1E3" stroke="#EAADD8" stroke-width="1.3"/>
<path d="M129.1 1020.8H148.6M129.1 1056.8H148.6M138.8 1020.8V1056.8" fill="none" stroke="#1B8EAF" stroke-width="1.7"/>
<path d="M182.8 1015.6H202.2M182.8 1051.2H202.2M192.5 1015.6V1051.2" fill="none" stroke="#8D9AD6" stroke-width="1.7"/>
<path d="M235.2 1019H254.8M235.2 1037H254.8M245 1019V1037" fill="none" stroke="#EAADD8" stroke-width="1.7"/>
<circle cx="138.8" cy="1019" r="5.2" fill="#fff" stroke="#1B8EAF" stroke-width="1.7"/>
<circle cx="151.2" cy="1045.6" r="5.2" fill="#fff" stroke="#1B8EAF" stroke-width="1.7"/>
<circle cx="126.5" cy="1052.7" r="5.2" fill="#fff" stroke="#1B8EAF" stroke-width="1.7"/>
<circle cx="192.5" cy="1010.7" r="5.2" fill="#fff" stroke="#8D9AD6" stroke-width="1.7"/>
<circle cx="192.5" cy="1030.2" r="5.2" fill="#fff" stroke="#8D9AD6" stroke-width="1.7"/>
<circle cx="204.5" cy="1045.6" r="5.2" fill="#fff" stroke="#8D9AD6" stroke-width="1.7"/>
<circle cx="180.1" cy="1049" r="5.2" fill="#fff" stroke="#8D9AD6" stroke-width="1.7"/>
<circle cx="232.6" cy="1022" r="5.2" fill="#fff" stroke="#EAADD8" stroke-width="1.7"/>
<circle cx="257.4" cy="1020" r="5.2" fill="#fff" stroke="#EAADD8" stroke-width="1.7"/>
<circle cx="232.6" cy="1035.8" r="5.2" fill="#fff" stroke="#EAADD8" stroke-width="1.7"/>
<circle cx="257.4" cy="1035.8" r="5.2" fill="#fff" stroke="#EAADD8" stroke-width="1.7"/>
<path d="M103.6 966.9V1234.4M94.1 967.9H103.6M94.1 1034.5H103.6M94.1 1101.2H103.6M94.1 1167.8H103.6M94.1 1234.4H103.6M94.1 1234.4H281.4M138.8 1234.4V1242.7M192.1 1234.4V1242.7M245 1234.4V1242.7" fill="none" stroke="#231815" stroke-width="1.9"/>
<text x="89.3" y="975" text-anchor="end">80</text>
<text x="89.3" y="1041.6" text-anchor="end">60</text>
<text x="89.3" y="1108.2" text-anchor="end">40</text>
<text x="89.3" y="1174.9" text-anchor="end">20</text>
<text x="89.3" y="1241.5" text-anchor="end">0</text>
<text text-anchor="middle" transform="translate(46.8 1102.6) rotate(-90)">TP (g/L)</text>
<text word-spacing="1.5" text-anchor="end" transform="translate(148.8 1262.9) rotate(-45)">Control</text>
<text word-spacing="1.5" text-anchor="end" transform="translate(209.1 1262.9) rotate(-45)">3 mg/kg CD12</text>
<text word-spacing="1.5" text-anchor="end" transform="translate(262 1262.9) rotate(-45)">9 mg/kg CD12</text>
<path d="M137.7 953.5V948H242V953.5" fill="none" stroke="#231815" stroke-width="2.1"/>
<text x="190.6" y="940.5" text-anchor="middle" font-style="italic">p=0.34</text>
<path d="M139.6 988.1V982.6H187.6V988.1" fill="none" stroke="#231815" stroke-width="2.1"/>
<text x="160.2" y="974" text-anchor="middle" font-style="italic">p=0.70</text>
<rect x="406.2" y="1034.9" width="32.7" height="197.2" fill="#67BBD4" stroke="#1B8EAF" stroke-width="1.8"/>
<rect x="459.2" y="1032" width="32.8" height="200.1" fill="#B4BDE4" stroke="#8D9AD6" stroke-width="1.4"/>
<rect x="512" y="1030.9" width="33.3" height="201.2" fill="#EFC1E3" stroke="#EAADD8" stroke-width="1.3"/>
<path d="M412.8 1028.7H432.2M412.8 1040H432.2M422.5 1028.7V1040" fill="none" stroke="#1B8EAF" stroke-width="1.7"/>
<path d="M465.9 1026.8H485.4M465.9 1034H485.4M475.6 1026.8V1034" fill="none" stroke="#8D9AD6" stroke-width="1.7"/>
<path d="M519 1022H538.5M519 1037H538.5M528.7 1022V1037" fill="none" stroke="#EAADD8" stroke-width="1.7"/>
<circle cx="411.6" cy="1027.6" r="5.2" fill="#fff" stroke="#1B8EAF" stroke-width="1.7"/>
<circle cx="435.3" cy="1033.2" r="5.2" fill="#fff" stroke="#1B8EAF" stroke-width="1.7"/>
<circle cx="411.6" cy="1040.7" r="5.2" fill="#fff" stroke="#1B8EAF" stroke-width="1.7"/>
<circle cx="472.8" cy="1026.5" r="5.2" fill="#fff" stroke="#8D9AD6" stroke-width="1.7"/>
<circle cx="488.9" cy="1028.7" r="5.2" fill="#fff" stroke="#8D9AD6" stroke-width="1.7"/>
<circle cx="480.3" cy="1030.2" r="5.2" fill="#fff" stroke="#8D9AD6" stroke-width="1.7"/>
<circle cx="464.2" cy="1035.8" r="5.2" fill="#fff" stroke="#8D9AD6" stroke-width="1.7"/>
<circle cx="541.5" cy="1019.3" r="5.2" fill="#fff" stroke="#EAADD8" stroke-width="1.7"/>
<circle cx="517.1" cy="1028.7" r="5.2" fill="#fff" stroke="#EAADD8" stroke-width="1.7"/>
<circle cx="541.5" cy="1032.5" r="5.2" fill="#fff" stroke="#EAADD8" stroke-width="1.7"/>
<circle cx="517.1" cy="1038.8" r="5.2" fill="#fff" stroke="#EAADD8" stroke-width="1.7"/>
<path d="M386.5 966.2V1232.1M377 967.2H386.5M377 1033.4H386.5M377 1099.7H386.5M377 1165.9H386.5M377 1232.1H386.5M377 1232.1H564.7M422.9 1232.1V1240.4M475.8 1232.1V1240.4M529.1 1232.1V1240.4" fill="none" stroke="#231815" stroke-width="1.9"/>
<text x="371.5" y="974.3" text-anchor="end">3.0</text>
<text x="371.5" y="1040.5" text-anchor="end">2.5</text>
<text x="371.5" y="1106.8" text-anchor="end">2.0</text>
<text x="371.5" y="1173" text-anchor="end">1.5</text>
<text x="371.5" y="1239.2" text-anchor="end">1.0</text>
<text text-anchor="middle" transform="translate(325.5 1104.5) rotate(-90)">Ca (mmol/L)</text>
<text word-spacing="1.5" text-anchor="end" transform="translate(429.4 1259.1) rotate(-45)">Control</text>
<text word-spacing="1.5" text-anchor="end" transform="translate(489.3 1259.1) rotate(-45)">3 mg/kg CD12</text>
<text word-spacing="1.5" text-anchor="end" transform="translate(542.6 1259.1) rotate(-45)">9 mg/kg CD12</text>
<path d="M420.3 953.2V947.7H524.2V953.2" fill="none" stroke="#231815" stroke-width="2.1"/>
<text x="476.5" y="939.4" text-anchor="middle" font-style="italic">p=0.42</text>
<path d="M425.1 986.9V981.4H473.9V986.9" fill="none" stroke="#231815" stroke-width="2.1"/>
<text x="445.8" y="973.2" text-anchor="middle" font-style="italic">p=0.35</text>
<rect x="688.7" y="1048" width="32.4" height="183.3" fill="#67BBD4" stroke="#1B8EAF" stroke-width="1.8"/>
<rect x="741.4" y="1044.4" width="33.2" height="186.9" fill="#B4BDE4" stroke="#8D9AD6" stroke-width="1.4"/>
<rect x="794.6" y="1035.8" width="33.6" height="195.6" fill="#EFC1E3" stroke="#EAADD8" stroke-width="1.3"/>
<path d="M695.4 1028.3H714.9M695.4 1063.2H714.9M705.1 1028.3V1063.2" fill="none" stroke="#1B8EAF" stroke-width="1.7"/>
<path d="M749 1027.6H768.5M749 1060.6H768.5M758.7 1027.6V1060.6" fill="none" stroke="#8D9AD6" stroke-width="1.7"/>
<path d="M802.2 1022H821.8M802.2 1045.6H821.8M812 1022V1045.6" fill="none" stroke="#EAADD8" stroke-width="1.7"/>
<circle cx="692.7" cy="1033.2" r="5.2" fill="#fff" stroke="#1B8EAF" stroke-width="1.7"/>
<circle cx="717.1" cy="1035.8" r="5.2" fill="#fff" stroke="#1B8EAF" stroke-width="1.7"/>
<circle cx="705.1" cy="1065.1" r="5.2" fill="#fff" stroke="#1B8EAF" stroke-width="1.7"/>
<circle cx="758.7" cy="1023.1" r="5.2" fill="#fff" stroke="#8D9AD6" stroke-width="1.7"/>
<circle cx="746.4" cy="1041.8" r="5.2" fill="#fff" stroke="#8D9AD6" stroke-width="1.7"/>
<circle cx="770.8" cy="1047.5" r="5.2" fill="#fff" stroke="#8D9AD6" stroke-width="1.7"/>
<circle cx="758.7" cy="1063.2" r="5.2" fill="#fff" stroke="#8D9AD6" stroke-width="1.7"/>
<circle cx="824.4" cy="1021.2" r="5.2" fill="#fff" stroke="#EAADD8" stroke-width="1.7"/>
<circle cx="799.6" cy="1025.7" r="5.2" fill="#fff" stroke="#EAADD8" stroke-width="1.7"/>
<circle cx="824.4" cy="1038.8" r="5.2" fill="#fff" stroke="#EAADD8" stroke-width="1.7"/>
<circle cx="799.6" cy="1044.5" r="5.2" fill="#fff" stroke="#EAADD8" stroke-width="1.7"/>
<path d="M672.8 963.5V1231.3M663.3 964.5H672.8M663.3 1017.9H672.8M663.3 1071.2H672.8M663.3 1124.6H672.8M663.3 1177.9H672.8M663.3 1231.3H672.8M663.3 1231.3H849.5M707.7 1231.3V1239.6M760.6 1231.3V1239.6M813.9 1231.3V1239.6" fill="none" stroke="#231815" stroke-width="1.9"/>
<text x="658.9" y="974.4" text-anchor="end">1.4</text>
<text x="658.9" y="1021.6" text-anchor="end">1.2</text>
<text x="658.9" y="1074.6" text-anchor="end">1.0</text>
<text x="658.9" y="1128" text-anchor="end">0.8</text>
<text x="658.9" y="1181.3" text-anchor="end">0.6</text>
<text x="658.9" y="1234.7" text-anchor="end">0.4</text>
<text text-anchor="middle" transform="translate(619.4 1102.6) rotate(-90)">Mg (mmol/L)</text>
<text word-spacing="1.5" text-anchor="end" transform="translate(716.7 1258.3) rotate(-45)">Control</text>
<text word-spacing="1.5" text-anchor="end" transform="translate(776.6 1258.3) rotate(-45)">3 mg/kg CD12</text>
<text word-spacing="1.5" text-anchor="end" transform="translate(829.9 1258.3) rotate(-45)">9 mg/kg CD12</text>
<path d="M705.1 955.4V949.9H809V955.4" fill="none" stroke="#231815" stroke-width="2.1"/>
<text x="755" y="942.4" text-anchor="middle" font-style="italic">p=0.33</text>
<path d="M705.8 985.5V980H755V985.5" fill="none" stroke="#231815" stroke-width="2.1"/>
<text x="726.5" y="973.2" text-anchor="middle" font-style="italic">p=0.91</text>
<rect x="978" y="1054.7" width="32.8" height="178.5" fill="#67BBD4" stroke="#1B8EAF" stroke-width="1.8"/>
<rect x="1031.1" y="1045.9" width="32.8" height="187.3" fill="#B4BDE4" stroke="#8D9AD6" stroke-width="1.4"/>
<rect x="1084" y="1045.2" width="32.5" height="188.1" fill="#EFC1E3" stroke="#EAADD8" stroke-width="1.3"/>
<path d="M984.2 1050H1003.8M984.2 1055.7H1003.8M994 1050V1055.7" fill="none" stroke="#1B8EAF" stroke-width="1.7"/>
<path d="M1037.8 1032H1057.2M1037.8 1055.7H1057.2M1047.5 1032V1055.7" fill="none" stroke="#8D9AD6" stroke-width="1.7"/>
<path d="M1090.2 1028.7H1109.8M1090.2 1057.6H1109.8M1100 1028.7V1057.6" fill="none" stroke="#EAADD8" stroke-width="1.7"/>
<circle cx="994" cy="1047.5" r="5.2" fill="#fff" stroke="#1B8EAF" stroke-width="1.7"/>
<circle cx="981.6" cy="1055.7" r="5.2" fill="#fff" stroke="#1B8EAF" stroke-width="1.7"/>
<circle cx="1006.4" cy="1052" r="5.2" fill="#fff" stroke="#1B8EAF" stroke-width="1.7"/>
<circle cx="1035.3" cy="1035.8" r="5.2" fill="#fff" stroke="#8D9AD6" stroke-width="1.7"/>
<circle cx="1059.7" cy="1032.5" r="5.2" fill="#fff" stroke="#8D9AD6" stroke-width="1.7"/>
<circle cx="1035.3" cy="1055" r="5.2" fill="#fff" stroke="#8D9AD6" stroke-width="1.7"/>
<circle cx="1059.7" cy="1053.1" r="5.2" fill="#fff" stroke="#8D9AD6" stroke-width="1.7"/>
<circle cx="1099.8" cy="1025" r="5.2" fill="#fff" stroke="#EAADD8" stroke-width="1.7"/>
<circle cx="1099.8" cy="1039.6" r="5.2" fill="#fff" stroke="#EAADD8" stroke-width="1.7"/>
<circle cx="1112.2" cy="1051.2" r="5.2" fill="#fff" stroke="#EAADD8" stroke-width="1.7"/>
<circle cx="1087.8" cy="1056.8" r="5.2" fill="#fff" stroke="#EAADD8" stroke-width="1.7"/>
<path d="M959.4 968V1233.2M949.9 969H959.4M949.9 1035H959.4M949.9 1101.1H959.4M949.9 1167.2H959.4M949.9 1233.2H959.4M949.9 1233.2H1134.7M994 1233.2V1241.5M1046.5 1233.2V1241.5M1099.8 1233.2V1241.5" fill="none" stroke="#231815" stroke-width="1.9"/>
<text x="942.6" y="976.1" text-anchor="end">180</text>
<text x="942.6" y="1042.1" text-anchor="end">160</text>
<text x="942.6" y="1108.2" text-anchor="end">140</text>
<text x="942.6" y="1174.2" text-anchor="end">120</text>
<text x="942.6" y="1240.3" text-anchor="end">100</text>
<text text-anchor="middle" transform="translate(899 1104.5) rotate(-90)">Na<tspan font-size="11" dy="-7.5">+</tspan><tspan dy="7.5"> </tspan>(mmol/L)</text>
<text word-spacing="1.5" text-anchor="end" transform="translate(1003 1260.2) rotate(-45)">Control</text>
<text word-spacing="1.5" text-anchor="end" transform="translate(1062.5 1260.2) rotate(-45)">3mg/kg CD12</text>
<text word-spacing="1.5" text-anchor="end" transform="translate(1115.8 1260.2) rotate(-45)">9mg/kg CD12</text>
<path d="M987.3 955.4V949.9H1094.2V955.4" fill="none" stroke="#231815" stroke-width="2.1"/>
<text x="1040.9" y="942.4" text-anchor="middle" font-style="italic">p=0.35</text>
<path d="M995.1 989.9V984.4H1043.5V989.9" fill="none" stroke="#231815" stroke-width="2.1"/>
<text x="1016.5" y="973.9" text-anchor="middle" font-style="italic">p=0.33</text>
<rect x="1259.5" y="1061.5" width="32.3" height="173.2" fill="#67BBD4" stroke="#1B8EAF" stroke-width="1.8"/>
<rect x="1312.6" y="1059.4" width="32.3" height="175.3" fill="#B4BDE4" stroke="#8D9AD6" stroke-width="1.4"/>
<rect x="1365.5" y="1055.7" width="32.8" height="179.1" fill="#EFC1E3" stroke="#EAADD8" stroke-width="1.3"/>
<path d="M1265.8 1043.3H1285.2M1265.8 1076.4H1285.2M1275.5 1043.3V1076.4" fill="none" stroke="#1B8EAF" stroke-width="1.7"/>
<path d="M1319 1049H1338.5M1319 1067.7H1338.5M1328.7 1049V1067.7" fill="none" stroke="#8D9AD6" stroke-width="1.7"/>
<path d="M1372 1049.3H1391.5M1372 1057.6H1391.5M1381.7 1049.3V1057.6" fill="none" stroke="#EAADD8" stroke-width="1.7"/>
<circle cx="1263.5" cy="1049" r="5.2" fill="#fff" stroke="#1B8EAF" stroke-width="1.7"/>
<circle cx="1287.8" cy="1052" r="5.2" fill="#fff" stroke="#1B8EAF" stroke-width="1.7"/>
<circle cx="1275.5" cy="1079" r="5.2" fill="#fff" stroke="#1B8EAF" stroke-width="1.7"/>
<circle cx="1316.7" cy="1052" r="5.2" fill="#fff" stroke="#8D9AD6" stroke-width="1.7"/>
<circle cx="1341.1" cy="1049" r="5.2" fill="#fff" stroke="#8D9AD6" stroke-width="1.7"/>
<circle cx="1316.7" cy="1065.1" r="5.2" fill="#fff" stroke="#8D9AD6" stroke-width="1.7"/>
<circle cx="1341.1" cy="1064.4" r="5.2" fill="#fff" stroke="#8D9AD6" stroke-width="1.7"/>
<circle cx="1377.9" cy="1045.2" r="5.2" fill="#fff" stroke="#EAADD8" stroke-width="1.7"/>
<circle cx="1369.3" cy="1053.8" r="5.2" fill="#fff" stroke="#EAADD8" stroke-width="1.7"/>
<circle cx="1386.2" cy="1053.1" r="5.2" fill="#fff" stroke="#EAADD8" stroke-width="1.7"/>
<circle cx="1394.4" cy="1052" r="5.2" fill="#fff" stroke="#EAADD8" stroke-width="1.7"/>
<path d="M1239.8 968.4V1234.7M1230.3 969.4H1239.8M1230.3 1035.7H1239.8M1230.3 1102H1239.8M1230.3 1168.4H1239.8M1230.3 1234.7H1239.8M1230.3 1234.7H1418M1275.5 1234.7V1243M1328.7 1234.7V1243M1381.7 1234.7V1243" fill="none" stroke="#231815" stroke-width="1.9"/>
<text x="1222.9" y="974.4" text-anchor="end">10</text>
<text x="1222.9" y="1040.7" text-anchor="end">8</text>
<text x="1222.9" y="1107" text-anchor="end">6</text>
<text x="1222.9" y="1173.4" text-anchor="end">4</text>
<text x="1222.9" y="1239.7" text-anchor="end">2</text>
<text text-anchor="middle" transform="translate(1187.2 1104.5) rotate(-90)">K<tspan font-size="11" dy="-7.5">+</tspan><tspan dy="7.5"> </tspan>(mmol/L)</text>
<text word-spacing="1.5" text-anchor="end" transform="translate(1284.5 1261.7) rotate(-45)">Control</text>
<text word-spacing="1.5" text-anchor="end" transform="translate(1344.7 1261.7) rotate(-45)">3 mg/kg CD12</text>
<text word-spacing="1.5" text-anchor="end" transform="translate(1397.7 1261.7) rotate(-45)">9 mg/kg CD12</text>
<path d="M1269.8 955.4V949.9H1376.8V955.4" fill="none" stroke="#231815" stroke-width="2.1"/>
<text x="1323.5" y="942.4" text-anchor="middle" font-style="italic">p=0.35</text>
<path d="M1276.2 985.5V980H1324.2V985.5" fill="none" stroke="#231815" stroke-width="2.1"/>
<text x="1296.1" y="973.2" text-anchor="middle" font-style="italic">p=0.85</text>
<rect x="1543.5" y="1020.9" width="32.4" height="210.4" fill="#67BBD4" stroke="#1B8EAF" stroke-width="1.8"/>
<rect x="1596.2" y="1021.5" width="32.8" height="209.8" fill="#B4BDE4" stroke="#8D9AD6" stroke-width="1.4"/>
<rect x="1649.5" y="1008.4" width="32.5" height="222.9" fill="#EFC1E3" stroke="#EAADD8" stroke-width="1.3"/>
<path d="M1550.2 1000.2H1569.7M1550.2 1039.6H1569.7M1559.9 1000.2V1039.6" fill="none" stroke="#1B8EAF" stroke-width="1.7"/>
<path d="M1602.7 1006.2H1622.2M1602.7 1033.2H1622.2M1612.4 1006.2V1033.2" fill="none" stroke="#8D9AD6" stroke-width="1.7"/>
<path d="M1656 993.8H1675.5M1656 1018.2H1675.5M1665.7 993.8V1018.2" fill="none" stroke="#EAADD8" stroke-width="1.7"/>
<circle cx="1547.5" cy="1003.2" r="5.2" fill="#fff" stroke="#1B8EAF" stroke-width="1.7"/>
<circle cx="1571.9" cy="1011.8" r="5.2" fill="#fff" stroke="#1B8EAF" stroke-width="1.7"/>
<circle cx="1559.9" cy="1039.6" r="5.2" fill="#fff" stroke="#1B8EAF" stroke-width="1.7"/>
<circle cx="1600" cy="1010.7" r="5.2" fill="#fff" stroke="#8D9AD6" stroke-width="1.7"/>
<circle cx="1624.4" cy="1006.2" r="5.2" fill="#fff" stroke="#8D9AD6" stroke-width="1.7"/>
<circle cx="1600" cy="1031.3" r="5.2" fill="#fff" stroke="#8D9AD6" stroke-width="1.7"/>
<circle cx="1624.4" cy="1029.5" r="5.2" fill="#fff" stroke="#8D9AD6" stroke-width="1.7"/>
<circle cx="1652.6" cy="996.4" r="5.2" fill="#fff" stroke="#EAADD8" stroke-width="1.7"/>
<circle cx="1677.7" cy="1000.2" r="5.2" fill="#fff" stroke="#EAADD8" stroke-width="1.7"/>
<circle cx="1665" cy="1004.3" r="5.2" fill="#fff" stroke="#EAADD8" stroke-width="1.7"/>
<circle cx="1665" cy="1023.1" r="5.2" fill="#fff" stroke="#EAADD8" stroke-width="1.7"/>
<path d="M1524.2 966.5V1231.3M1514.7 967.5H1524.2M1514.7 1033.5H1524.2M1514.7 1099.4H1524.2M1514.7 1165.3H1524.2M1514.7 1231.3H1524.2M1514.7 1231.3H1701M1559.9 1231.3V1239.6M1612.4 1231.3V1239.6M1665.7 1231.3V1239.6" fill="none" stroke="#231815" stroke-width="1.9"/>
<text x="1506.2" y="974.6" text-anchor="end">120</text>
<text x="1506.2" y="1040.5" text-anchor="end">100</text>
<text x="1506.2" y="1106.5" text-anchor="end">80</text>
<text x="1506.2" y="1172.4" text-anchor="end">60</text>
<text x="1506.2" y="1238.4" text-anchor="end">40</text>
<text text-anchor="middle" transform="translate(1461.1 1104.5) rotate(-90)">Cl<tspan font-size="11" dy="-7.5">-</tspan><tspan dy="7.5"> </tspan>(mmol/L)</text>
<text word-spacing="1.5" text-anchor="end" transform="translate(1568.9 1258.3) rotate(-45)">Control</text>
<text word-spacing="1.5" text-anchor="end" transform="translate(1628.4 1258.3) rotate(-45)">3 mg/kg CD12</text>
<text word-spacing="1.5" text-anchor="end" transform="translate(1681.7 1258.3) rotate(-45)">9 mg/kg CD12</text>
<path d="M1553.1 953.5V948H1660.1V953.5" fill="none" stroke="#231815" stroke-width="2.1"/>
<text x="1606.8" y="940.5" text-anchor="middle" font-style="italic">p=0.33</text>
<path d="M1560.6 985.5V980H1609.4V985.5" fill="none" stroke="#231815" stroke-width="2.1"/>
<text x="1581.3" y="973.2" text-anchor="middle" font-style="italic">p=0.95</text>
<path d="M240.7 1469.8V1708.6M231 1708.6H639.2M231 1470.7H240.7M231 1530.2H240.7M231 1589.7H240.7M231 1649.2H240.7M231 1708.7H240.7M240.7 1708.6V1718M310.9 1708.6V1718M381.2 1708.6V1718M451.6 1708.6V1718M521.9 1708.6V1718M592.2 1708.6V1718" fill="none" stroke="#000" stroke-width="2"/>
<g>
<path d="M304.4 1638.1H317.4M304.4 1672.1H317.4M310.9 1638.1V1672.1M374.7 1613.3H387.7M374.7 1630.7H387.7M381.2 1613.3V1630.7M445.1 1585.6H458.1M445.1 1615.5H458.1M451.6 1585.6V1615.5M515.4 1544.4H528.4M515.4 1583.7H528.4M521.9 1544.4V1583.7M585.7 1507.6H598.7M585.7 1558.2H598.7M592.2 1507.6V1558.2" fill="none" stroke="#17819A" stroke-width="1.7"/>
<path d="M240.7 1708L310.9 1655.6L381.2 1622.4L451.6 1600.8L521.9 1562.9L592.2 1532.5" fill="none" stroke="#17819A" stroke-width="2.1"/>
<rect x="234.9" y="1702.2" width="11.5" height="11.5" fill="#6FB2B9" stroke="#17819A" stroke-width="1.6"/>
<rect x="305.1" y="1649.8" width="11.5" height="11.5" fill="#6FB2B9" stroke="#17819A" stroke-width="1.6"/>
<rect x="375.4" y="1616.7" width="11.5" height="11.5" fill="#6FB2B9" stroke="#17819A" stroke-width="1.6"/>
<rect x="445.9" y="1595" width="11.5" height="11.5" fill="#6FB2B9" stroke="#17819A" stroke-width="1.6"/>
<rect x="516.1" y="1557.2" width="11.5" height="11.5" fill="#6FB2B9" stroke="#17819A" stroke-width="1.6"/>
<rect x="586.5" y="1526.8" width="11.5" height="11.5" fill="#6FB2B9" stroke="#17819A" stroke-width="1.6"/>
</g>
<g>
<path d="M304.4 1637H317.4M304.4 1659.7H317.4M310.9 1637V1659.7M374.7 1589.2H387.7M374.7 1649.2H387.7M381.2 1589.2V1649.2M445.1 1569H458.1M445.1 1623.8H458.1M451.6 1569V1623.8M515.4 1531.1H528.4M515.4 1613.3H528.4M521.9 1531.1V1613.3M585.7 1512.6H598.7M585.7 1585.6H598.7M592.2 1512.6V1585.6" fill="none" stroke="#8488C8" stroke-width="1.7"/>
<path d="M240.7 1708L310.9 1647.8L381.2 1620.2L451.6 1597.5L521.9 1572.6L592.2 1549.1" fill="none" stroke="#8488C8" stroke-width="2.1"/>
<circle cx="240.7" cy="1708" r="5.6" fill="#A9ACD8" stroke="#8488C8" stroke-width="1.7" fill-opacity="0.8"/>
<circle cx="310.9" cy="1647.8" r="5.6" fill="#A9ACD8" stroke="#8488C8" stroke-width="1.7" fill-opacity="0.8"/>
<circle cx="381.2" cy="1620.2" r="5.6" fill="#A9ACD8" stroke="#8488C8" stroke-width="1.7" fill-opacity="0.8"/>
<circle cx="451.6" cy="1597.5" r="5.6" fill="#A9ACD8" stroke="#8488C8" stroke-width="1.7" fill-opacity="0.8"/>
<circle cx="521.9" cy="1572.6" r="5.6" fill="#A9ACD8" stroke="#8488C8" stroke-width="1.7" fill-opacity="0.8"/>
<circle cx="592.2" cy="1549.1" r="5.6" fill="#A9ACD8" stroke="#8488C8" stroke-width="1.7" fill-opacity="0.8"/>
</g>
<text x="222.5" y="1471.3" text-anchor="end" fill="#000">120</text>
<text x="222.5" y="1530.8" text-anchor="end" fill="#000">115</text>
<text x="222.5" y="1590.3" text-anchor="end" fill="#000">110</text>
<text x="222.5" y="1649.8" text-anchor="end" fill="#000">105</text>
<text x="222.5" y="1709.3" text-anchor="end" fill="#000">100</text>
<text x="239.7" y="1739.3" text-anchor="middle" fill="#000">0</text>
<text x="309.9" y="1739.3" text-anchor="middle" fill="#000">1</text>
<text x="380.2" y="1739.3" text-anchor="middle" fill="#000">2</text>
<text x="450.6" y="1739.3" text-anchor="middle" fill="#000">3</text>
<text x="520.9" y="1739.3" text-anchor="middle" fill="#000">4</text>
<text x="591.2" y="1739.3" text-anchor="middle" fill="#000">5</text>
<text x="425.2" y="1770.6" text-anchor="middle">Days</text>
<text text-anchor="middle" transform="translate(172.5 1595.6) rotate(-90)">Body weight change (%)</text>
<line x1="267.2" y1="1442.5" x2="299" y2="1442.5" stroke="#17819A" stroke-width="2.1"/>
<rect x="276.5" y="1436.8" width="11.4" height="11.4" fill="#6FB2B9" stroke="#17819A" stroke-width="1.6"/>
<text x="308.9" y="1444.8" word-spacing="1.5">Control</text>
<line x1="267.2" y1="1470.3" x2="299" y2="1470.3" stroke="#8488C8" stroke-width="2.1"/>
<circle cx="282" cy="1470.3" r="5.6" fill="#A9ACD8" stroke="#8488C8" stroke-width="1.5"/>
<text x="308.9" y="1473.9" word-spacing="1.5">15 mg/kg CD12</text>
<path d="M468.7 1433.6H479V1469.4H468.7" fill="none" stroke="#000" stroke-width="2.2"/>
<text x="488.8" y="1455" font-style="italic">p=0.76</text>
<rect x="841.3" y="1695.9" width="14" height="13.8" fill="#69AFC3" stroke="#177F98" stroke-width="2"/>
<circle cx="843.3" cy="1694.5" r="2.5" fill="#fff" stroke="#177F98" stroke-width="1.6"/>
<circle cx="846.3" cy="1694.5" r="2.5" fill="#fff" stroke="#177F98" stroke-width="1.6"/>
<circle cx="849.3" cy="1694.5" r="2.5" fill="#fff" stroke="#177F98" stroke-width="1.6"/>
<circle cx="852.8" cy="1694.5" r="2.5" fill="#fff" stroke="#177F98" stroke-width="1.6"/>
<rect x="864.6" y="1695.8" width="14.3" height="13.9" fill="#B0B3DC" stroke="#8A8ECB" stroke-width="1.7"/>
<circle cx="866.7" cy="1694.5" r="2.5" fill="#fff" stroke="#8A8ECB" stroke-width="1.6"/>
<circle cx="870.2" cy="1694.5" r="2.5" fill="#fff" stroke="#8A8ECB" stroke-width="1.6"/>
<circle cx="873.7" cy="1694.5" r="2.5" fill="#fff" stroke="#8A8ECB" stroke-width="1.6"/>
<circle cx="877.2" cy="1694.5" r="2.5" fill="#fff" stroke="#8A8ECB" stroke-width="1.6"/>
<rect x="904" y="1659.1" width="14" height="50.6" fill="#69AFC3" stroke="#177F98" stroke-width="2"/>
<circle cx="911" cy="1650.5" r="2.5" fill="#fff" stroke="#177F98" stroke-width="1.6"/>
<circle cx="905.5" cy="1658" r="2.5" fill="#fff" stroke="#177F98" stroke-width="1.6"/>
<circle cx="916.5" cy="1654" r="2.5" fill="#fff" stroke="#177F98" stroke-width="1.6"/>
<circle cx="909" cy="1658.5" r="2.5" fill="#fff" stroke="#177F98" stroke-width="1.6"/>
<circle cx="914" cy="1657.5" r="2.5" fill="#fff" stroke="#177F98" stroke-width="1.6"/>
<rect x="927.3" y="1657" width="14.3" height="52.6" fill="#B0B3DC" stroke="#8A8ECB" stroke-width="1.7"/>
<circle cx="929.4" cy="1653.5" r="2.5" fill="#fff" stroke="#8A8ECB" stroke-width="1.6"/>
<circle cx="934.4" cy="1652" r="2.5" fill="#fff" stroke="#8A8ECB" stroke-width="1.6"/>
<circle cx="939.9" cy="1653" r="2.5" fill="#fff" stroke="#8A8ECB" stroke-width="1.6"/>
<circle cx="932.4" cy="1660" r="2.5" fill="#fff" stroke="#8A8ECB" stroke-width="1.6"/>
<circle cx="937.4" cy="1657.5" r="2.5" fill="#fff" stroke="#8A8ECB" stroke-width="1.6"/>
<rect x="966.6" y="1532.6" width="14" height="177.1" fill="#69AFC3" stroke="#177F98" stroke-width="2"/>
<circle cx="968.6" cy="1530.5" r="2.5" fill="#fff" stroke="#177F98" stroke-width="1.6"/>
<circle cx="972.1" cy="1529.5" r="2.5" fill="#fff" stroke="#177F98" stroke-width="1.6"/>
<circle cx="975.6" cy="1530" r="2.5" fill="#fff" stroke="#177F98" stroke-width="1.6"/>
<circle cx="979.1" cy="1531" r="2.5" fill="#fff" stroke="#177F98" stroke-width="1.6"/>
<rect x="989.9" y="1532.4" width="14.3" height="177.3" fill="#B0B3DC" stroke="#8A8ECB" stroke-width="1.7"/>
<circle cx="992" cy="1530.5" r="2.5" fill="#fff" stroke="#8A8ECB" stroke-width="1.6"/>
<circle cx="995.5" cy="1529" r="2.5" fill="#fff" stroke="#8A8ECB" stroke-width="1.6"/>
<circle cx="999.5" cy="1530" r="2.5" fill="#fff" stroke="#8A8ECB" stroke-width="1.6"/>
<circle cx="1003" cy="1530.5" r="2.5" fill="#fff" stroke="#8A8ECB" stroke-width="1.6"/>
<rect x="1030.1" y="1687.8" width="14" height="21.9" fill="#69AFC3" stroke="#177F98" stroke-width="2"/>
<circle cx="1032.1" cy="1685" r="2.5" fill="#fff" stroke="#177F98" stroke-width="1.6"/>
<circle cx="1037.1" cy="1683.5" r="2.5" fill="#fff" stroke="#177F98" stroke-width="1.6"/>
<circle cx="1042.1" cy="1686" r="2.5" fill="#fff" stroke="#177F98" stroke-width="1.6"/>
<circle cx="1035.1" cy="1688" r="2.5" fill="#fff" stroke="#177F98" stroke-width="1.6"/>
<rect x="1053.3" y="1686.5" width="14.3" height="23.1" fill="#B0B3DC" stroke="#8A8ECB" stroke-width="1.7"/>
<circle cx="1055.5" cy="1686" r="2.5" fill="#fff" stroke="#8A8ECB" stroke-width="1.6"/>
<circle cx="1059.5" cy="1682.5" r="2.5" fill="#fff" stroke="#8A8ECB" stroke-width="1.6"/>
<circle cx="1064.5" cy="1684.5" r="2.5" fill="#fff" stroke="#8A8ECB" stroke-width="1.6"/>
<circle cx="1066.5" cy="1687.5" r="2.5" fill="#fff" stroke="#8A8ECB" stroke-width="1.6"/>
<rect x="1092.7" y="1689.7" width="14" height="20" fill="#69AFC3" stroke="#177F98" stroke-width="2"/>
<circle cx="1094.7" cy="1688" r="2.5" fill="#fff" stroke="#177F98" stroke-width="1.6"/>
<circle cx="1098.2" cy="1685" r="2.5" fill="#fff" stroke="#177F98" stroke-width="1.6"/>
<circle cx="1102.7" cy="1686" r="2.5" fill="#fff" stroke="#177F98" stroke-width="1.6"/>
<circle cx="1105.7" cy="1689" r="2.5" fill="#fff" stroke="#177F98" stroke-width="1.6"/>
<rect x="1116" y="1689.5" width="14.3" height="20.1" fill="#B0B3DC" stroke="#8A8ECB" stroke-width="1.7"/>
<circle cx="1118.1" cy="1688" r="2.5" fill="#fff" stroke="#8A8ECB" stroke-width="1.6"/>
<circle cx="1121.6" cy="1686" r="2.5" fill="#fff" stroke="#8A8ECB" stroke-width="1.6"/>
<circle cx="1125.6" cy="1686" r="2.5" fill="#fff" stroke="#8A8ECB" stroke-width="1.6"/>
<circle cx="1129.1" cy="1688" r="2.5" fill="#fff" stroke="#8A8ECB" stroke-width="1.6"/>
<rect x="1155.4" y="1653.5" width="14" height="56.2" fill="#69AFC3" stroke="#177F98" stroke-width="2"/>
<circle cx="1157.4" cy="1645" r="2.5" fill="#fff" stroke="#177F98" stroke-width="1.6"/>
<circle cx="1163.9" cy="1647.5" r="2.5" fill="#fff" stroke="#177F98" stroke-width="1.6"/>
<circle cx="1158.4" cy="1652.5" r="2.5" fill="#fff" stroke="#177F98" stroke-width="1.6"/>
<circle cx="1163.4" cy="1653" r="2.5" fill="#fff" stroke="#177F98" stroke-width="1.6"/>
<circle cx="1168.4" cy="1653" r="2.5" fill="#fff" stroke="#177F98" stroke-width="1.6"/>
<rect x="1178.7" y="1652.6" width="14.3" height="57.1" fill="#B0B3DC" stroke="#8A8ECB" stroke-width="1.7"/>
<circle cx="1179.8" cy="1650" r="2.5" fill="#fff" stroke="#8A8ECB" stroke-width="1.6"/>
<circle cx="1184.8" cy="1649" r="2.5" fill="#fff" stroke="#8A8ECB" stroke-width="1.6"/>
<circle cx="1191.3" cy="1646" r="2.5" fill="#fff" stroke="#8A8ECB" stroke-width="1.6"/>
<circle cx="1180.3" cy="1654.5" r="2.5" fill="#fff" stroke="#8A8ECB" stroke-width="1.6"/>
<circle cx="1190.8" cy="1651.5" r="2.5" fill="#fff" stroke="#8A8ECB" stroke-width="1.6"/>
<path d="M832.3 1462.9V1709.7M822.5 1709.7H1199.8M822.5 1463.8H832.3M822.5 1545.8H832.3M822.5 1627.7H832.3M822.5 1709.7H832.3M858.8 1709.7V1719M921.5 1709.7V1719M984.1 1709.7V1719M1047.6 1709.7V1719M1110.2 1709.7V1719M1172.9 1709.7V1719" fill="none" stroke="#000" stroke-width="2"/>
<text x="818.2" y="1467.3" text-anchor="end" fill="#000">1.5</text>
<text x="818.2" y="1549.3" text-anchor="end" fill="#000">1.0</text>
<text x="818.2" y="1631.2" text-anchor="end" fill="#000">0.5</text>
<text x="818.2" y="1713.2" text-anchor="end" fill="#000">0.0</text>
<text text-anchor="end" transform="translate(867.8 1733.3) rotate(-45)">Spleen</text>
<text text-anchor="end" transform="translate(926.5 1733.3) rotate(-45)">Kidney</text>
<text text-anchor="end" transform="translate(993.6 1732.2) rotate(-45)">Liver</text>
<text text-anchor="end" transform="translate(1056.1 1732.2) rotate(-45)">Lung</text>
<text text-anchor="end" transform="translate(1118.4 1732.2) rotate(-45)">Heart</text>
<text text-anchor="end" transform="translate(1177.9 1732.2) rotate(-45)">Brain</text>
<text text-anchor="middle" transform="translate(771.5 1575) rotate(-90)">Tissue weight (g)</text>
<rect x="873.8" y="1417.9" width="32.4" height="17.8" fill="#63B6D3" stroke="#1789AC" stroke-width="2"/>
<text x="916" y="1433.3" word-spacing="1.5">Control</text>
<rect x="873.8" y="1451.5" width="32.4" height="17.8" fill="#B3B9DE" stroke="#9297CC" stroke-width="1.7"/>
<text x="916" y="1466.9" word-spacing="1.5">15 mg/kg CD12</text>
<path d="M1069.7 1423.2H1078.9V1454.2H1069.7" fill="none" stroke="#000" stroke-width="2.2"/>
<text x="1086.5" y="1445.3" font-style="italic">p=0.60</text>
<rect x="111.4" y="1987.4" width="45.5" height="118.4" fill="#69AFC3" stroke="#177F98" stroke-width="1.8"/>
<rect x="183.8" y="1976.9" width="45.5" height="128.9" fill="#B0B3DC" stroke="#8B8FCC" stroke-width="1.4"/>
<path d="M121.6 1972H146.6M121.6 1999.7H146.6M134.1 1972V1999.7" fill="none" stroke="#177F98" stroke-width="1.7"/>
<path d="M193.7 1931.2H218.7M193.7 2019.7H218.7M206.2 1931.2V2019.7" fill="none" stroke="#8B8FCC" stroke-width="1.7"/>
<circle cx="134.3" cy="1963" r="4.8" fill="#fff" stroke="#177F98" stroke-width="1.7"/>
<circle cx="115.2" cy="1985.9" r="4.8" fill="#fff" stroke="#177F98" stroke-width="1.7"/>
<circle cx="134.3" cy="1990" r="4.8" fill="#fff" stroke="#177F98" stroke-width="1.7"/>
<circle cx="153.4" cy="1989.3" r="4.8" fill="#fff" stroke="#177F98" stroke-width="1.7"/>
<circle cx="134.3" cy="2000.4" r="4.8" fill="#fff" stroke="#177F98" stroke-width="1.7"/>
<circle cx="206.2" cy="1899.4" r="4.8" fill="#fff" stroke="#8B8FCC" stroke-width="1.7"/>
<circle cx="206.2" cy="1976.2" r="4.8" fill="#fff" stroke="#8B8FCC" stroke-width="1.7"/>
<circle cx="206.2" cy="1991.4" r="4.8" fill="#fff" stroke="#8B8FCC" stroke-width="1.7"/>
<circle cx="216.6" cy="2002.9" r="4.8" fill="#fff" stroke="#8B8FCC" stroke-width="1.7"/>
<circle cx="196.1" cy="2007.3" r="4.8" fill="#fff" stroke="#8B8FCC" stroke-width="1.7"/>
<path d="M86.6 1853.1V2105.8M76 1854.1H86.6M76 1917H86.6M76 1980H86.6M76 2042.9H86.6M76 2105.8H86.6M76 2105.8H255.2M134 2105.8V2115.8M206.4 2105.8V2115.8" fill="none" stroke="#000" stroke-width="2"/>
<text x="69.9" y="1857.7" text-anchor="end" fill="#000">80</text>
<text x="69.9" y="1920.6" text-anchor="end" fill="#000">60</text>
<text x="69.9" y="1983.5" text-anchor="end" fill="#000">40</text>
<text x="69.9" y="2046.5" text-anchor="end" fill="#000">20</text>
<text x="69.9" y="2109.4" text-anchor="end" fill="#000">0</text>
<text text-anchor="middle" transform="translate(26.9 1986.4) rotate(-90)">ALT (U/L)</text>
<text word-spacing="1.5" text-anchor="end" transform="translate(147.3 2128.7) rotate(-45)">Control</text>
<text word-spacing="1.5" text-anchor="end" transform="translate(216.5 2130.7) rotate(-45)">15 mg/kg CD12</text>
<path d="M138.7 1871.4V1865.9H208.7V1871.4" fill="none" stroke="#000" stroke-width="2.1"/>
<text x="173.4" y="1857.7" text-anchor="middle" font-style="italic">p=0.63</text>
<rect x="396" y="1941.5" width="45.9" height="162.4" fill="#69AFC3" stroke="#177F98" stroke-width="1.8"/>
<rect x="468.6" y="1976.2" width="45.5" height="127.7" fill="#B0B3DC" stroke="#8B8FCC" stroke-width="1.4"/>
<path d="M405.9 1923.7H430.9M405.9 1955.6H430.9M418.4 1923.7V1955.6" fill="none" stroke="#177F98" stroke-width="1.7"/>
<path d="M479.1 1944H504.1M479.1 2005.1H504.1M491.6 1944V2005.1" fill="none" stroke="#8B8FCC" stroke-width="1.7"/>
<circle cx="419.1" cy="1920.7" r="4.8" fill="#fff" stroke="#177F98" stroke-width="1.7"/>
<circle cx="409" cy="1934.6" r="4.8" fill="#fff" stroke="#177F98" stroke-width="1.7"/>
<circle cx="428.9" cy="1933.1" r="4.8" fill="#fff" stroke="#177F98" stroke-width="1.7"/>
<circle cx="428.9" cy="1950.7" r="4.8" fill="#fff" stroke="#177F98" stroke-width="1.7"/>
<circle cx="409" cy="1959.4" r="4.8" fill="#fff" stroke="#177F98" stroke-width="1.7"/>
<circle cx="491.6" cy="1940.6" r="4.8" fill="#fff" stroke="#8B8FCC" stroke-width="1.7"/>
<circle cx="491.6" cy="1954.5" r="4.8" fill="#fff" stroke="#8B8FCC" stroke-width="1.7"/>
<circle cx="491.6" cy="1966.9" r="4.8" fill="#fff" stroke="#8B8FCC" stroke-width="1.7"/>
<circle cx="491.6" cy="1997.6" r="4.8" fill="#fff" stroke="#8B8FCC" stroke-width="1.7"/>
<circle cx="491.6" cy="2014.5" r="4.8" fill="#fff" stroke="#8B8FCC" stroke-width="1.7"/>
<path d="M370.7 1848.8V2103.9M360.1 1849.8H370.7M360.1 1900.6H370.7M360.1 1951.4H370.7M360.1 2002.3H370.7M360.1 2053.1H370.7M360.1 2103.9H370.7M360.1 2103.9H540.3M418.4 2103.9V2113.9M491.6 2103.9V2113.9" fill="none" stroke="#000" stroke-width="2"/>
<text x="353.2" y="1857.1" text-anchor="end" fill="#000">250</text>
<text x="353.2" y="1907.9" text-anchor="end" fill="#000">200</text>
<text x="353.2" y="1958.7" text-anchor="end" fill="#000">150</text>
<text x="353.2" y="2009.6" text-anchor="end" fill="#000">100</text>
<text x="353.2" y="2060.4" text-anchor="end" fill="#000">50</text>
<text x="353.2" y="2111.2" text-anchor="end" fill="#000">0</text>
<text text-anchor="middle" transform="translate(300.1 1986.4) rotate(-90)">AST (U/L)</text>
<text word-spacing="1.5" text-anchor="end" transform="translate(428.7 2128.8) rotate(-45)">Control</text>
<text word-spacing="1.5" text-anchor="end" transform="translate(499.7 2128.8) rotate(-45)">15 mg/kg CD12</text>
<path d="M422.1 1871.8V1866.3H492.3V1871.8" fill="none" stroke="#000" stroke-width="2.1"/>
<text x="456.7" y="1858" text-anchor="middle" font-style="italic">p=0.64</text>
<rect x="686.5" y="1959.1" width="45.1" height="143.7" fill="#69AFC3" stroke="#177F98" stroke-width="1.8"/>
<rect x="758.3" y="1970.9" width="45.9" height="131.9" fill="#B0B3DC" stroke="#8B8FCC" stroke-width="1.4"/>
<path d="M696.3 1912.8H721.3M696.3 2002.1H721.3M708.8 1912.8V2002.1" fill="none" stroke="#177F98" stroke-width="1.7"/>
<path d="M768.8 1908.3H793.8M768.8 2030.3H793.8M781.3 1908.3V2030.3" fill="none" stroke="#8B8FCC" stroke-width="1.7"/>
<circle cx="709.6" cy="1902.7" r="4.8" fill="#fff" stroke="#177F98" stroke-width="1.7"/>
<circle cx="699.5" cy="1941.4" r="4.8" fill="#fff" stroke="#177F98" stroke-width="1.7"/>
<circle cx="719.3" cy="1936.8" r="4.8" fill="#fff" stroke="#177F98" stroke-width="1.7"/>
<circle cx="709.6" cy="1996.9" r="4.8" fill="#fff" stroke="#177F98" stroke-width="1.7"/>
<circle cx="709.6" cy="2010" r="4.8" fill="#fff" stroke="#177F98" stroke-width="1.7"/>
<circle cx="782" cy="1881.3" r="4.8" fill="#fff" stroke="#8B8FCC" stroke-width="1.7"/>
<circle cx="782" cy="1942.5" r="4.8" fill="#fff" stroke="#8B8FCC" stroke-width="1.7"/>
<circle cx="782" cy="1984.5" r="4.8" fill="#fff" stroke="#8B8FCC" stroke-width="1.7"/>
<circle cx="782" cy="1994.6" r="4.8" fill="#fff" stroke="#8B8FCC" stroke-width="1.7"/>
<circle cx="782" cy="2044.5" r="4.8" fill="#fff" stroke="#8B8FCC" stroke-width="1.7"/>
<path d="M661.9 1849.2V2102.8M651.3 1850.2H661.9M651.3 1913.4H661.9M651.3 1976.5H661.9M651.3 2039.7H661.9M651.3 2102.8H661.9M651.3 2102.8H830M708.8 2102.8V2112.8M781.3 2102.8V2112.8" fill="none" stroke="#000" stroke-width="2"/>
<text x="642.9" y="1853.8" text-anchor="end" fill="#000">2800</text>
<text x="642.9" y="1917" text-anchor="end" fill="#000">2600</text>
<text x="642.9" y="1980.1" text-anchor="end" fill="#000">2400</text>
<text x="642.9" y="2043.2" text-anchor="end" fill="#000">2200</text>
<text x="642.9" y="2106.4" text-anchor="end" fill="#000">2000</text>
<text text-anchor="middle" transform="translate(586 1984.5) rotate(-90)">AMY (U/L)</text>
<text word-spacing="1.5" text-anchor="end" transform="translate(719.1 2127.7) rotate(-45)">Control</text>
<text word-spacing="1.5" text-anchor="end" transform="translate(789.4 2127.7) rotate(-45)">15 mg/kg CD12</text>
<path d="M708.8 1869.2V1863.7H779V1869.2" fill="none" stroke="#000" stroke-width="2.1"/>
<text x="743.4" y="1856.2" text-anchor="middle" font-style="italic">p=0.74</text>
<rect x="968.6" y="1883" width="45.2" height="217.9" fill="#69AFC3" stroke="#177F98" stroke-width="1.8"/>
<rect x="1040.5" y="1905.7" width="45.5" height="195.2" fill="#B0B3DC" stroke="#8B8FCC" stroke-width="1.4"/>
<path d="M978.5 1873.8H1003.5M978.5 1888.8H1003.5M991 1873.8V1888.8" fill="none" stroke="#177F98" stroke-width="1.7"/>
<path d="M1050.2 1885.8H1075.2M1050.2 1922.6H1075.2M1062.7 1885.8V1922.6" fill="none" stroke="#8B8FCC" stroke-width="1.7"/>
<circle cx="991" cy="1871.9" r="4.8" fill="#fff" stroke="#177F98" stroke-width="1.7"/>
<circle cx="1009" cy="1876.8" r="4.8" fill="#fff" stroke="#177F98" stroke-width="1.7"/>
<circle cx="991" cy="1883.2" r="4.8" fill="#fff" stroke="#177F98" stroke-width="1.7"/>
<circle cx="972.3" cy="1888.8" r="4.8" fill="#fff" stroke="#177F98" stroke-width="1.7"/>
<circle cx="1009" cy="1888.8" r="4.8" fill="#fff" stroke="#177F98" stroke-width="1.7"/>
<circle cx="1063.4" cy="1878.3" r="4.8" fill="#fff" stroke="#8B8FCC" stroke-width="1.7"/>
<circle cx="1044.7" cy="1899.3" r="4.8" fill="#fff" stroke="#8B8FCC" stroke-width="1.7"/>
<circle cx="1081.4" cy="1905.7" r="4.8" fill="#fff" stroke="#8B8FCC" stroke-width="1.7"/>
<circle cx="1063.4" cy="1907.6" r="4.8" fill="#fff" stroke="#8B8FCC" stroke-width="1.7"/>
<circle cx="1063.4" cy="1929.3" r="4.8" fill="#fff" stroke="#8B8FCC" stroke-width="1.7"/>
<path d="M944.1 1849.2V2100.9M933.5 1850.2H944.1M933.5 1912.9H944.1M933.5 1975.6H944.1M933.5 2038.2H944.1M933.5 2100.9H944.1M933.5 2100.9H1110.3M991 2100.9V2110.9M1062.7 2100.9V2110.9" fill="none" stroke="#000" stroke-width="2"/>
<text x="925.1" y="1853.8" text-anchor="end" fill="#000">12</text>
<text x="925.1" y="1916.5" text-anchor="end" fill="#000">9</text>
<text x="925.1" y="1979.2" text-anchor="end" fill="#000">6</text>
<text x="925.1" y="2041.8" text-anchor="end" fill="#000">3</text>
<text x="925.1" y="2104.5" text-anchor="end" fill="#000">0</text>
<text text-anchor="middle" transform="translate(878.7 1986.4) rotate(-90)">BUN (mmol/L)</text>
<text word-spacing="1.5" text-anchor="end" transform="translate(1001.3 2125.8) rotate(-45)">Control</text>
<text word-spacing="1.5" text-anchor="end" transform="translate(1070.8 2125.8) rotate(-45)">15 mg/kg CD12</text>
<path d="M991 1860.5V1855H1061.6V1860.5" fill="none" stroke="#000" stroke-width="2.1"/>
<text x="1025.9" y="1846.8" text-anchor="middle" font-style="italic">p=0.04</text>
<rect x="1241.5" y="1917.9" width="44.3" height="182.2" fill="#69AFC3" stroke="#177F98" stroke-width="1.8"/>
<rect x="1312.9" y="1932.3" width="45.2" height="167.8" fill="#B0B3DC" stroke="#8B8FCC" stroke-width="1.4"/>
<path d="M1251 1870H1276M1251 1962H1276M1263.5 1870V1962" fill="none" stroke="#177F98" stroke-width="1.7"/>
<path d="M1323 1896H1348M1323 1965H1348M1335.5 1896V1965" fill="none" stroke="#8B8FCC" stroke-width="1.7"/>
<circle cx="1254.1" cy="1873" r="4.8" fill="#fff" stroke="#177F98" stroke-width="1.7"/>
<circle cx="1274.3" cy="1880.6" r="4.8" fill="#fff" stroke="#177F98" stroke-width="1.7"/>
<circle cx="1264.2" cy="1898.2" r="4.8" fill="#fff" stroke="#177F98" stroke-width="1.7"/>
<circle cx="1264.2" cy="1949.6" r="4.8" fill="#fff" stroke="#177F98" stroke-width="1.7"/>
<circle cx="1264.2" cy="1979.6" r="4.8" fill="#fff" stroke="#177F98" stroke-width="1.7"/>
<circle cx="1335.5" cy="1868.9" r="4.8" fill="#fff" stroke="#8B8FCC" stroke-width="1.7"/>
<circle cx="1328.7" cy="1940.2" r="4.8" fill="#fff" stroke="#8B8FCC" stroke-width="1.7"/>
<circle cx="1316" cy="1949.6" r="4.8" fill="#fff" stroke="#8B8FCC" stroke-width="1.7"/>
<circle cx="1341.9" cy="1947.7" r="4.8" fill="#fff" stroke="#8B8FCC" stroke-width="1.7"/>
<circle cx="1354.3" cy="1947" r="4.8" fill="#fff" stroke="#8B8FCC" stroke-width="1.7"/>
<path d="M1217.3 1848.8V2100.1M1206.7 1849.8H1217.3M1206.7 1933.2H1217.3M1206.7 2016.7H1217.3M1206.7 2100.1H1217.3M1206.7 2100.1H1383.2M1263.5 2100.1V2110.1M1335.5 2100.1V2110.1" fill="none" stroke="#000" stroke-width="2"/>
<text x="1202.8" y="1857.1" text-anchor="end" fill="#000">30</text>
<text x="1202.8" y="1940.5" text-anchor="end" fill="#000">20</text>
<text x="1202.8" y="2024" text-anchor="end" fill="#000">10</text>
<text x="1202.8" y="2107.4" text-anchor="end" fill="#000">0</text>
<text text-anchor="middle" transform="translate(1162 1986.4) rotate(-90)">CREA (μmol/L)</text>
<text word-spacing="1.5" text-anchor="end" transform="translate(1273.8 2131) rotate(-45)">Control</text>
<text word-spacing="1.5" text-anchor="end" transform="translate(1345.6 2128) rotate(-45)">15 mg/kg CD12</text>
<path d="M1263.5 1856.8V1851.3H1333.6V1856.8" fill="none" stroke="#000" stroke-width="2.1"/>
<text x="1297.2" y="1841.9" text-anchor="middle" font-style="italic">p=0.72</text>
<rect x="1521.4" y="1919" width="45.1" height="177.8" fill="#69AFC3" stroke="#177F98" stroke-width="1.8"/>
<rect x="1593.2" y="1944.3" width="45.5" height="152.5" fill="#B0B3DC" stroke="#8B8FCC" stroke-width="1.4"/>
<path d="M1531.3 1885.8H1556.3M1531.3 1948.9H1556.3M1543.8 1885.8V1948.9" fill="none" stroke="#177F98" stroke-width="1.7"/>
<path d="M1603.3 1903.1H1628.3M1603.3 1982.6H1628.3M1615.8 1903.1V1982.6" fill="none" stroke="#8B8FCC" stroke-width="1.7"/>
<circle cx="1543.8" cy="1863.3" r="4.8" fill="#fff" stroke="#177F98" stroke-width="1.7"/>
<circle cx="1543.8" cy="1914" r="4.8" fill="#fff" stroke="#177F98" stroke-width="1.7"/>
<circle cx="1524.2" cy="1938.7" r="4.8" fill="#fff" stroke="#177F98" stroke-width="1.7"/>
<circle cx="1543.8" cy="1934.6" r="4.8" fill="#fff" stroke="#177F98" stroke-width="1.7"/>
<circle cx="1563.3" cy="1935.3" r="4.8" fill="#fff" stroke="#177F98" stroke-width="1.7"/>
<circle cx="1616.2" cy="1888.8" r="4.8" fill="#fff" stroke="#8B8FCC" stroke-width="1.7"/>
<circle cx="1616.2" cy="1915.1" r="4.8" fill="#fff" stroke="#8B8FCC" stroke-width="1.7"/>
<circle cx="1616.2" cy="1954.5" r="4.8" fill="#fff" stroke="#8B8FCC" stroke-width="1.7"/>
<circle cx="1616.2" cy="1969.5" r="4.8" fill="#fff" stroke="#8B8FCC" stroke-width="1.7"/>
<circle cx="1616.2" cy="1985.6" r="4.8" fill="#fff" stroke="#8B8FCC" stroke-width="1.7"/>
<path d="M1496.9 1842.8V2096.8M1486.3 1843.8H1496.9M1486.3 1928.1H1496.9M1486.3 2012.5H1496.9M1486.3 2096.8H1496.9M1486.3 2096.8H1663.8M1543.8 2096.8V2106.8M1615.8 2096.8V2106.8" fill="none" stroke="#000" stroke-width="2"/>
<text x="1476.7" y="1848.1" text-anchor="end" fill="#000">600</text>
<text x="1476.7" y="1932.4" text-anchor="end" fill="#000">400</text>
<text x="1476.7" y="2016.8" text-anchor="end" fill="#000">200</text>
<text x="1476.7" y="2101.1" text-anchor="end" fill="#000">0</text>
<text text-anchor="middle" transform="translate(1428.1 1986.4) rotate(-90)">LDH (U/L)</text>
<text word-spacing="1.5" text-anchor="end" transform="translate(1554.1 2127.7) rotate(-45)">Control</text>
<text word-spacing="1.5" text-anchor="end" transform="translate(1625.9 2125.4) rotate(-45)">15 mg/kg CD12</text>
<path d="M1543.8 1852.3V1846.8H1613.9V1852.3" fill="none" stroke="#000" stroke-width="2.1"/>
<text x="1578.7" y="1838.2" text-anchor="middle" font-style="italic">p=0.37</text>
<rect x="109.7" y="2362.1" width="44.7" height="208.5" fill="#69AFC3" stroke="#177F98" stroke-width="1.8"/>
<rect x="181.6" y="2362.3" width="45.5" height="208.3" fill="#B0B3DC" stroke="#8B8FCC" stroke-width="1.4"/>
<path d="M119.6 2352.9H144.6M119.6 2366.8H144.6M132.1 2352.9V2366.8" fill="none" stroke="#177F98" stroke-width="1.7"/>
<path d="M192 2351.1H217M192 2369.8H217M204.5 2351.1V2369.8" fill="none" stroke="#8B8FCC" stroke-width="1.7"/>
<circle cx="132.1" cy="2349.2" r="4.8" fill="#fff" stroke="#177F98" stroke-width="1.7"/>
<circle cx="150.8" cy="2354.8" r="4.8" fill="#fff" stroke="#177F98" stroke-width="1.7"/>
<circle cx="132.1" cy="2361.2" r="4.8" fill="#fff" stroke="#177F98" stroke-width="1.7"/>
<circle cx="113.3" cy="2366.1" r="4.8" fill="#fff" stroke="#177F98" stroke-width="1.7"/>
<circle cx="150.8" cy="2366.1" r="4.8" fill="#fff" stroke="#177F98" stroke-width="1.7"/>
<circle cx="195.1" cy="2348.4" r="4.8" fill="#fff" stroke="#8B8FCC" stroke-width="1.7"/>
<circle cx="213.9" cy="2349.2" r="4.8" fill="#fff" stroke="#8B8FCC" stroke-width="1.7"/>
<circle cx="204.5" cy="2365.3" r="4.8" fill="#fff" stroke="#8B8FCC" stroke-width="1.7"/>
<circle cx="185.7" cy="2368.7" r="4.8" fill="#fff" stroke="#8B8FCC" stroke-width="1.7"/>
<circle cx="223.3" cy="2368" r="4.8" fill="#fff" stroke="#8B8FCC" stroke-width="1.7"/>
<path d="M84.4 2317.1V2570.6M73.8 2318.1H84.4M73.8 2402.3H84.4M73.8 2486.4H84.4M73.8 2570.6H84.4M73.8 2570.6H252.2M132.1 2570.6V2580.6M204.5 2570.6V2580.6" fill="none" stroke="#000" stroke-width="2"/>
<text x="65" y="2325.4" text-anchor="end" fill="#000">60</text>
<text x="65" y="2409.6" text-anchor="end" fill="#000">40</text>
<text x="65" y="2493.7" text-anchor="end" fill="#000">20</text>
<text x="65" y="2577.9" text-anchor="end" fill="#000">0</text>
<text text-anchor="middle" transform="translate(26.9 2450.5) rotate(-90)">TP (g/L)</text>
<text word-spacing="1.5" text-anchor="end" transform="translate(151.9 2599.5) rotate(-45)">control</text>
<text word-spacing="1.5" text-anchor="end" transform="translate(210.6 2600.5) rotate(-45)">15 mg/kg CD12</text>
<path d="M133.2 2334.1V2328.6H203.4V2334.1" fill="none" stroke="#000" stroke-width="2.1"/>
<text x="167.7" y="2319.9" text-anchor="middle" font-style="italic">p=0.92</text>
<rect x="395.6" y="2369.6" width="45.2" height="203.7" fill="#69AFC3" stroke="#177F98" stroke-width="1.8"/>
<rect x="468.6" y="2387.4" width="44.8" height="185.9" fill="#B0B3DC" stroke="#8B8FCC" stroke-width="1.4"/>
<path d="M405.1 2344.7H430.1M405.1 2390.5H430.1M417.6 2344.7V2390.5" fill="none" stroke="#177F98" stroke-width="1.7"/>
<path d="M478.3 2376.2H503.3M478.3 2396.1H503.3M490.8 2376.2V2396.1" fill="none" stroke="#8B8FCC" stroke-width="1.7"/>
<circle cx="419.1" cy="2327.4" r="4.8" fill="#fff" stroke="#177F98" stroke-width="1.7"/>
<circle cx="419.1" cy="2368" r="4.8" fill="#fff" stroke="#177F98" stroke-width="1.7"/>
<circle cx="399.6" cy="2381.8" r="4.8" fill="#fff" stroke="#177F98" stroke-width="1.7"/>
<circle cx="419.1" cy="2380.3" r="4.8" fill="#fff" stroke="#177F98" stroke-width="1.7"/>
<circle cx="437.9" cy="2379.2" r="4.8" fill="#fff" stroke="#177F98" stroke-width="1.7"/>
<circle cx="472" cy="2373.6" r="4.8" fill="#fff" stroke="#8B8FCC" stroke-width="1.7"/>
<circle cx="490.8" cy="2377.3" r="4.8" fill="#fff" stroke="#8B8FCC" stroke-width="1.7"/>
<circle cx="490.8" cy="2389.7" r="4.8" fill="#fff" stroke="#8B8FCC" stroke-width="1.7"/>
<circle cx="472" cy="2396.1" r="4.8" fill="#fff" stroke="#8B8FCC" stroke-width="1.7"/>
<circle cx="509.6" cy="2392.3" r="4.8" fill="#fff" stroke="#8B8FCC" stroke-width="1.7"/>
<path d="M371.5 2318.2V2573.3M360.9 2319.2H371.5M360.9 2382.7H371.5M360.9 2446.2H371.5M360.9 2509.8H371.5M360.9 2573.3H371.5M360.9 2573.3H539.2M417.6 2573.3V2583.3M490.8 2573.3V2583.3" fill="none" stroke="#000" stroke-width="2"/>
<text x="353.2" y="2324.2" text-anchor="end" fill="#000">3.0</text>
<text x="353.2" y="2387.7" text-anchor="end" fill="#000">2.5</text>
<text x="353.2" y="2451.2" text-anchor="end" fill="#000">2.0</text>
<text x="353.2" y="2514.8" text-anchor="end" fill="#000">1.5</text>
<text x="353.2" y="2578.3" text-anchor="end" fill="#000">1.0</text>
<text text-anchor="middle" transform="translate(300.1 2450.5) rotate(-90)">Ca (mmol/L)</text>
<text word-spacing="1.5" text-anchor="end" transform="translate(437.4 2602.2) rotate(-45)">Control</text>
<text word-spacing="1.5" text-anchor="end" transform="translate(496.9 2603.2) rotate(-45)">15 mg/kg CD12</text>
<path d="M419.1 2319V2313.5H488.9V2319" fill="none" stroke="#000" stroke-width="2.1"/>
<text x="454" y="2305.3" text-anchor="middle" font-style="italic">p=0.64</text>
<rect x="685.3" y="2426.3" width="45.2" height="143.2" fill="#69AFC3" stroke="#177F98" stroke-width="1.8"/>
<rect x="758.3" y="2470.7" width="45.5" height="98.8" fill="#B0B3DC" stroke="#8B8FCC" stroke-width="1.4"/>
<path d="M695.2 2366.8H720.2M695.2 2482.4H720.2M707.7 2366.8V2482.4" fill="none" stroke="#177F98" stroke-width="1.7"/>
<path d="M768.4 2456.9H793.4M768.4 2480.9H793.4M780.9 2456.9V2480.9" fill="none" stroke="#8B8FCC" stroke-width="1.7"/>
<circle cx="708.1" cy="2328.6" r="4.8" fill="#fff" stroke="#177F98" stroke-width="1.7"/>
<circle cx="708.1" cy="2416" r="4.8" fill="#fff" stroke="#177F98" stroke-width="1.7"/>
<circle cx="708.1" cy="2443.7" r="4.8" fill="#fff" stroke="#177F98" stroke-width="1.7"/>
<circle cx="708.1" cy="2459.1" r="4.8" fill="#fff" stroke="#177F98" stroke-width="1.7"/>
<circle cx="708.1" cy="2474.1" r="4.8" fill="#fff" stroke="#177F98" stroke-width="1.7"/>
<circle cx="781.3" cy="2453.5" r="4.8" fill="#fff" stroke="#8B8FCC" stroke-width="1.7"/>
<circle cx="762.1" cy="2466.6" r="4.8" fill="#fff" stroke="#8B8FCC" stroke-width="1.7"/>
<circle cx="800" cy="2466.6" r="4.8" fill="#fff" stroke="#8B8FCC" stroke-width="1.7"/>
<circle cx="781.3" cy="2470" r="4.8" fill="#fff" stroke="#8B8FCC" stroke-width="1.7"/>
<circle cx="781.3" cy="2486.2" r="4.8" fill="#fff" stroke="#8B8FCC" stroke-width="1.7"/>
<path d="M660.1 2313.3V2569.5M649.5 2314.3H660.1M649.5 2365.3H660.1M649.5 2416.4H660.1M649.5 2467.4H660.1M649.5 2518.5H660.1M649.5 2569.5H660.1M649.5 2569.5H829.7M707.7 2569.5V2579.5M780.9 2569.5V2579.5" fill="none" stroke="#000" stroke-width="2"/>
<text x="640.7" y="2318.6" text-anchor="end" fill="#000">1.4</text>
<text x="640.7" y="2369.6" text-anchor="end" fill="#000">1.2</text>
<text x="640.7" y="2420.7" text-anchor="end" fill="#000">1.0</text>
<text x="640.7" y="2471.7" text-anchor="end" fill="#000">0.8</text>
<text x="640.7" y="2522.8" text-anchor="end" fill="#000">0.6</text>
<text x="640.7" y="2573.8" text-anchor="end" fill="#000">0.4</text>
<text text-anchor="middle" transform="translate(586.8 2450.5) rotate(-90)">Mg (mmol/L)</text>
<text word-spacing="1.5" text-anchor="end" transform="translate(727.5 2598.4) rotate(-45)">Control</text>
<text word-spacing="1.5" text-anchor="end" transform="translate(787 2599.4) rotate(-45)">15 mg/kg CD12</text>
<path d="M707 2310.8V2305.3H777.1V2310.8" fill="none" stroke="#000" stroke-width="2.1"/>
<text x="742.6" y="2296.7" text-anchor="middle" font-style="italic">p=0.13</text>
<rect x="972.4" y="2371.9" width="44.4" height="198.7" fill="#69AFC3" stroke="#177F98" stroke-width="1.8"/>
<rect x="1044.2" y="2367.5" width="45.6" height="203.1" fill="#B0B3DC" stroke="#8B8FCC" stroke-width="1.4"/>
<path d="M981.5 2359.7H1006.5M981.5 2378.5H1006.5M994 2359.7V2378.5" fill="none" stroke="#177F98" stroke-width="1.7"/>
<path d="M1053.9 2346.6H1078.9M1053.9 2384.8H1078.9M1066.4 2346.6V2384.8" fill="none" stroke="#8B8FCC" stroke-width="1.7"/>
<circle cx="994.8" cy="2354.8" r="4.8" fill="#fff" stroke="#177F98" stroke-width="1.7"/>
<circle cx="976" cy="2366.8" r="4.8" fill="#fff" stroke="#177F98" stroke-width="1.7"/>
<circle cx="994.8" cy="2371.7" r="4.8" fill="#fff" stroke="#177F98" stroke-width="1.7"/>
<circle cx="1013.5" cy="2373.6" r="4.8" fill="#fff" stroke="#177F98" stroke-width="1.7"/>
<circle cx="976" cy="2378.1" r="4.8" fill="#fff" stroke="#177F98" stroke-width="1.7"/>
<circle cx="1067.2" cy="2337.2" r="4.8" fill="#fff" stroke="#8B8FCC" stroke-width="1.7"/>
<circle cx="1076.6" cy="2357.4" r="4.8" fill="#fff" stroke="#8B8FCC" stroke-width="1.7"/>
<circle cx="1057.1" cy="2366.8" r="4.8" fill="#fff" stroke="#8B8FCC" stroke-width="1.7"/>
<circle cx="1076.6" cy="2379.2" r="4.8" fill="#fff" stroke="#8B8FCC" stroke-width="1.7"/>
<circle cx="1057.1" cy="2386" r="4.8" fill="#fff" stroke="#8B8FCC" stroke-width="1.7"/>
<path d="M946.4 2317.1V2570.6M935.8 2318.1H946.4M935.8 2402.3H946.4M935.8 2486.4H946.4M935.8 2570.6H946.4M935.8 2570.6H1114.8M994 2570.6V2580.6M1066.4 2570.6V2580.6" fill="none" stroke="#000" stroke-width="2"/>
<text x="925.1" y="2321.7" text-anchor="end" fill="#000">160</text>
<text x="925.1" y="2405.9" text-anchor="end" fill="#000">140</text>
<text x="925.1" y="2490" text-anchor="end" fill="#000">120</text>
<text x="925.1" y="2574.2" text-anchor="end" fill="#000">100</text>
<text text-anchor="middle" transform="translate(881.3 2450.5) rotate(-90)">Na<tspan font-size="11" dy="-7.5">+</tspan><tspan dy="7.5"> </tspan>(mmol/L)</text>
<text word-spacing="1.5" text-anchor="end" transform="translate(1013.8 2599.5) rotate(-45)">Control</text>
<text word-spacing="1.5" text-anchor="end" transform="translate(1072.5 2600.5) rotate(-45)">15 mg/kg CD12</text>
<path d="M996.6 2326.5V2321H1066.4V2326.5" fill="none" stroke="#000" stroke-width="2.1"/>
<text x="1031.5" y="2312.4" text-anchor="middle" font-style="italic">p=0.75</text>
<rect x="1240" y="2400" width="45.1" height="169.9" fill="#69AFC3" stroke="#177F98" stroke-width="1.8"/>
<rect x="1312.9" y="2393.8" width="45.5" height="176.1" fill="#B0B3DC" stroke="#8B8FCC" stroke-width="1.4"/>
<path d="M1249.8 2385.6H1274.8M1249.8 2411.1H1274.8M1262.3 2385.6V2411.1" fill="none" stroke="#177F98" stroke-width="1.7"/>
<path d="M1323 2374.7H1348M1323 2410H1348M1335.5 2374.7V2410" fill="none" stroke="#8B8FCC" stroke-width="1.7"/>
<circle cx="1263.1" cy="2386.7" r="4.8" fill="#fff" stroke="#177F98" stroke-width="1.7"/>
<circle cx="1243.6" cy="2390.5" r="4.8" fill="#fff" stroke="#177F98" stroke-width="1.7"/>
<circle cx="1281.8" cy="2390.5" r="4.8" fill="#fff" stroke="#177F98" stroke-width="1.7"/>
<circle cx="1271.7" cy="2407.4" r="4.8" fill="#fff" stroke="#177F98" stroke-width="1.7"/>
<circle cx="1253" cy="2416" r="4.8" fill="#fff" stroke="#177F98" stroke-width="1.7"/>
<circle cx="1326.1" cy="2377.3" r="4.8" fill="#fff" stroke="#8B8FCC" stroke-width="1.7"/>
<circle cx="1345.6" cy="2377.3" r="4.8" fill="#fff" stroke="#8B8FCC" stroke-width="1.7"/>
<circle cx="1326.1" cy="2390.5" r="4.8" fill="#fff" stroke="#8B8FCC" stroke-width="1.7"/>
<circle cx="1345.6" cy="2394.2" r="4.8" fill="#fff" stroke="#8B8FCC" stroke-width="1.7"/>
<circle cx="1335.5" cy="2420.5" r="4.8" fill="#fff" stroke="#8B8FCC" stroke-width="1.7"/>
<path d="M1214.3 2313.7V2569.9M1203.7 2314.7H1214.3M1203.7 2399.8H1214.3M1203.7 2484.8H1214.3M1203.7 2569.9H1214.3M1203.7 2569.9H1385.4M1262.3 2569.9V2579.9M1335.5 2569.9V2579.9" fill="none" stroke="#000" stroke-width="2"/>
<text x="1195.3" y="2322" text-anchor="end" fill="#000">8</text>
<text x="1195.3" y="2407.1" text-anchor="end" fill="#000">6</text>
<text x="1195.3" y="2492.1" text-anchor="end" fill="#000">4</text>
<text x="1195.3" y="2577.2" text-anchor="end" fill="#000">2</text>
<text text-anchor="middle" transform="translate(1166.5 2450.5) rotate(-90)">K<tspan font-size="11" dy="-7.5">+</tspan><tspan dy="7.5"> </tspan>(mmol/L)</text>
<text word-spacing="1.5" text-anchor="end" transform="translate(1282.1 2598.8) rotate(-45)">Control</text>
<text word-spacing="1.5" text-anchor="end" transform="translate(1341.6 2599.8) rotate(-45)">15 mg/kg CD12</text>
<path d="M1261.6 2343.4V2337.9H1331.8V2343.4" fill="none" stroke="#000" stroke-width="2.1"/>
<text x="1296.1" y="2330.4" text-anchor="middle" font-style="italic">p=0.56</text>
<rect x="1525.1" y="2376.4" width="45.1" height="194.2" fill="#69AFC3" stroke="#177F98" stroke-width="1.8"/>
<rect x="1598.9" y="2365.6" width="45.5" height="205" fill="#B0B3DC" stroke="#8B8FCC" stroke-width="1.4"/>
<path d="M1535 2363.5H1560M1535 2384.8H1560M1547.5 2363.5V2384.8" fill="none" stroke="#177F98" stroke-width="1.7"/>
<path d="M1609.3 2346.6H1634.3M1609.3 2380.3H1634.3M1621.8 2346.6V2380.3" fill="none" stroke="#8B8FCC" stroke-width="1.7"/>
<circle cx="1567.4" cy="2361.2" r="4.8" fill="#fff" stroke="#177F98" stroke-width="1.7"/>
<circle cx="1529.5" cy="2369.1" r="4.8" fill="#fff" stroke="#177F98" stroke-width="1.7"/>
<circle cx="1548.3" cy="2377.3" r="4.8" fill="#fff" stroke="#177F98" stroke-width="1.7"/>
<circle cx="1566.3" cy="2375.5" r="4.8" fill="#fff" stroke="#177F98" stroke-width="1.7"/>
<circle cx="1548.3" cy="2390.5" r="4.8" fill="#fff" stroke="#177F98" stroke-width="1.7"/>
<circle cx="1621.8" cy="2334.2" r="4.8" fill="#fff" stroke="#8B8FCC" stroke-width="1.7"/>
<circle cx="1602.7" cy="2366.8" r="4.8" fill="#fff" stroke="#8B8FCC" stroke-width="1.7"/>
<circle cx="1621.8" cy="2369.1" r="4.8" fill="#fff" stroke="#8B8FCC" stroke-width="1.7"/>
<circle cx="1602.7" cy="2377.3" r="4.8" fill="#fff" stroke="#8B8FCC" stroke-width="1.7"/>
<circle cx="1640.6" cy="2372.8" r="4.8" fill="#fff" stroke="#8B8FCC" stroke-width="1.7"/>
<path d="M1498.7 2310.7V2570.6M1488.1 2311.7H1498.7M1488.1 2376.4H1498.7M1488.1 2441.2H1498.7M1488.1 2505.9H1498.7M1488.1 2570.6H1498.7M1488.1 2570.6H1671.3M1547.5 2570.6V2580.6M1621.8 2570.6V2580.6" fill="none" stroke="#000" stroke-width="2"/>
<text x="1480.5" y="2315.3" text-anchor="end" fill="#000">120</text>
<text x="1480.5" y="2380" text-anchor="end" fill="#000">100</text>
<text x="1480.5" y="2444.8" text-anchor="end" fill="#000">80</text>
<text x="1480.5" y="2509.5" text-anchor="end" fill="#000">60</text>
<text x="1480.5" y="2574.2" text-anchor="end" fill="#000">40</text>
<text text-anchor="middle" transform="translate(1431.1 2452.4) rotate(-90)">Cl<tspan font-size="11" dy="-7.5">-</tspan><tspan dy="7.5"> </tspan>(mmol/L)</text>
<text word-spacing="1.5" text-anchor="end" transform="translate(1567.3 2599.5) rotate(-45)">Control</text>
<text word-spacing="1.5" text-anchor="end" transform="translate(1627.9 2600.5) rotate(-45)">15 mg/kg CD12</text>
<path d="M1550.5 2320.9V2315.4H1620.7V2320.9" fill="none" stroke="#000" stroke-width="2.1"/>
<text x="1585" y="2307.2" text-anchor="middle" font-style="italic">p=0.27</text>
</svg>
</body></html>
